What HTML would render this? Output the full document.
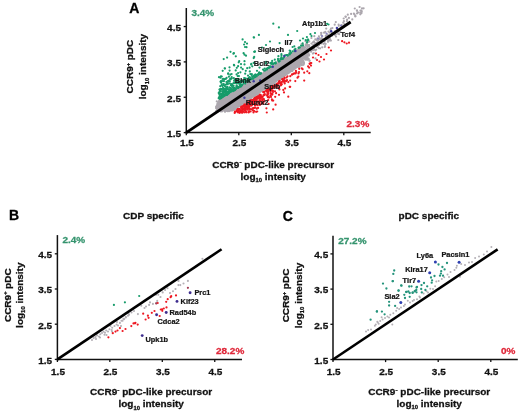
<!DOCTYPE html>
<html><head><meta charset="utf-8"><style>
html,body{margin:0;padding:0;background:#fff;width:520px;height:413px;overflow:hidden}
svg{display:block;font-family:"Liberation Sans",sans-serif;filter:blur(0.35px)}
</style></head><body>
<svg width="520" height="413" viewBox="0 0 520 413">
<rect width="520" height="413" fill="#fff"/>
<polygon points="217.3,111.4 215.2,107.1 218.6,99.6 221.2,98.2 223.8,96.7 226.5,95.3 229.1,93.7 231.7,92.2 234.3,90.6 237.0,89.0 239.6,87.3 242.2,85.7 244.8,84.0 247.5,82.4 250.1,80.7 252.7,79.0 255.3,77.3 258.0,75.5 260.6,73.8 263.2,72.1 265.8,70.3 268.5,68.6 271.1,66.9 273.7,65.1 276.3,63.4 279.0,61.6 281.6,59.9 284.2,58.1 286.8,56.4 289.5,54.6 292.1,52.8 294.7,51.1 297.3,49.3 300.0,47.5 302.6,45.8 302.6,64.6 300.0,66.3 297.3,68.1 294.7,69.9 292.1,71.6 289.5,73.4 286.8,75.2 284.2,76.9 281.6,78.7 279.0,80.5 276.3,82.2 273.7,84.0 271.1,85.8 268.5,87.5 265.8,89.3 263.2,91.1 260.6,92.8 258.0,94.6 255.3,96.4 252.7,98.1 250.1,99.9 247.5,101.7 244.8,103.4 242.2,105.2 239.6,107.0 237.0,108.7 234.3,110.5 231.7,111.4 229.1,111.4 226.5,111.4 223.8,111.4 221.2,111.4 218.6,111.4 216.0,111.4" fill="#aca7ae"/>
<g fill="#aca7ae">
<circle cx="257.8" cy="94.9" r="1.1"/>
<circle cx="262.9" cy="85.2" r="1.1"/>
<circle cx="233.2" cy="108.0" r="1.1"/>
<circle cx="224.9" cy="107.1" r="1.1"/>
<circle cx="224.6" cy="104.1" r="1.1"/>
<circle cx="306.5" cy="58.8" r="1.1"/>
<circle cx="276.3" cy="74.2" r="1.1"/>
<circle cx="264.8" cy="81.7" r="1.1"/>
<circle cx="233.7" cy="100.6" r="1.1"/>
<circle cx="256.7" cy="84.0" r="1.1"/>
<circle cx="263.9" cy="84.0" r="1.1"/>
<circle cx="258.2" cy="88.7" r="1.1"/>
<circle cx="307.9" cy="41.3" r="1.1"/>
<circle cx="245.2" cy="93.2" r="1.1"/>
<circle cx="242.8" cy="86.9" r="1.1"/>
<circle cx="294.0" cy="56.5" r="1.1"/>
<circle cx="304.2" cy="53.1" r="1.1"/>
<circle cx="299.9" cy="56.3" r="1.1"/>
<circle cx="306.3" cy="53.3" r="1.1"/>
<circle cx="287.8" cy="63.1" r="1.1"/>
<circle cx="227.1" cy="94.1" r="1.1"/>
<circle cx="225.5" cy="98.0" r="1.1"/>
<circle cx="267.6" cy="74.6" r="1.1"/>
<circle cx="233.7" cy="101.0" r="1.1"/>
<circle cx="226.9" cy="107.8" r="1.1"/>
<circle cx="235.8" cy="100.9" r="1.1"/>
<circle cx="297.5" cy="56.5" r="1.1"/>
<circle cx="275.2" cy="67.9" r="1.1"/>
<circle cx="307.1" cy="50.4" r="1.1"/>
<circle cx="246.4" cy="88.4" r="1.1"/>
<circle cx="223.0" cy="102.4" r="1.1"/>
<circle cx="271.5" cy="71.7" r="1.1"/>
<circle cx="257.9" cy="78.9" r="1.1"/>
<circle cx="295.8" cy="60.3" r="1.1"/>
<circle cx="230.4" cy="95.3" r="1.1"/>
<circle cx="233.7" cy="105.7" r="1.1"/>
<circle cx="302.6" cy="50.3" r="1.1"/>
<circle cx="254.9" cy="85.3" r="1.1"/>
<circle cx="238.1" cy="96.9" r="1.1"/>
<circle cx="239.8" cy="93.6" r="1.1"/>
<circle cx="232.3" cy="107.6" r="1.1"/>
<circle cx="222.5" cy="107.3" r="1.1"/>
<circle cx="272.7" cy="68.2" r="1.1"/>
<circle cx="300.5" cy="55.4" r="1.1"/>
<circle cx="257.2" cy="84.0" r="1.1"/>
<circle cx="232.4" cy="105.9" r="1.1"/>
<circle cx="249.5" cy="85.3" r="1.1"/>
<circle cx="306.3" cy="56.0" r="1.1"/>
<circle cx="229.1" cy="110.1" r="1.1"/>
<circle cx="217.9" cy="104.8" r="1.1"/>
<circle cx="260.5" cy="83.1" r="1.1"/>
<circle cx="283.9" cy="60.3" r="1.1"/>
<circle cx="289.1" cy="68.1" r="1.1"/>
<circle cx="248.5" cy="94.9" r="1.1"/>
<circle cx="254.6" cy="96.4" r="1.1"/>
<circle cx="295.6" cy="65.3" r="1.1"/>
<circle cx="269.8" cy="79.5" r="1.1"/>
<circle cx="251.9" cy="89.0" r="1.1"/>
<circle cx="293.3" cy="67.1" r="1.1"/>
<circle cx="285.2" cy="59.4" r="1.1"/>
<circle cx="237.4" cy="97.0" r="1.1"/>
<circle cx="261.9" cy="90.1" r="1.1"/>
<circle cx="278.5" cy="69.6" r="1.1"/>
<circle cx="276.9" cy="68.7" r="1.1"/>
<circle cx="298.2" cy="60.7" r="1.1"/>
<circle cx="255.8" cy="79.3" r="1.1"/>
<circle cx="300.2" cy="52.3" r="1.1"/>
<circle cx="245.3" cy="96.2" r="1.1"/>
<circle cx="261.8" cy="76.7" r="1.1"/>
<circle cx="303.5" cy="61.9" r="1.1"/>
<circle cx="231.8" cy="105.8" r="1.1"/>
<circle cx="254.3" cy="85.6" r="1.1"/>
<circle cx="261.6" cy="85.7" r="1.1"/>
<circle cx="257.8" cy="75.8" r="1.1"/>
<circle cx="219.1" cy="109.5" r="1.1"/>
<circle cx="268.6" cy="78.2" r="1.1"/>
<circle cx="288.9" cy="60.8" r="1.1"/>
<circle cx="218.5" cy="110.6" r="1.1"/>
<circle cx="238.0" cy="96.8" r="1.1"/>
<circle cx="257.2" cy="83.6" r="1.1"/>
<circle cx="276.4" cy="67.5" r="1.1"/>
<circle cx="259.9" cy="82.7" r="1.1"/>
<circle cx="281.8" cy="67.6" r="1.1"/>
<circle cx="241.2" cy="99.9" r="1.1"/>
<circle cx="272.7" cy="68.1" r="1.1"/>
<circle cx="252.4" cy="85.3" r="1.1"/>
<circle cx="301.9" cy="65.2" r="1.1"/>
<circle cx="228.2" cy="111.1" r="1.1"/>
<circle cx="250.8" cy="87.1" r="1.1"/>
<circle cx="297.0" cy="54.6" r="1.1"/>
<circle cx="276.1" cy="83.5" r="1.1"/>
<circle cx="282.6" cy="64.8" r="1.1"/>
<circle cx="235.8" cy="105.7" r="1.1"/>
<circle cx="306.3" cy="45.7" r="1.1"/>
<circle cx="245.7" cy="93.5" r="1.1"/>
<circle cx="294.9" cy="60.7" r="1.1"/>
<circle cx="266.8" cy="76.7" r="1.1"/>
<circle cx="261.0" cy="73.4" r="1.1"/>
<circle cx="289.7" cy="61.4" r="1.1"/>
<circle cx="247.0" cy="91.1" r="1.1"/>
<circle cx="263.7" cy="83.1" r="1.1"/>
<circle cx="293.4" cy="64.9" r="1.1"/>
<circle cx="303.4" cy="64.8" r="1.1"/>
<circle cx="236.6" cy="102.8" r="1.1"/>
<circle cx="274.9" cy="73.6" r="1.1"/>
<circle cx="293.7" cy="64.2" r="1.1"/>
<circle cx="293.9" cy="61.7" r="1.1"/>
<circle cx="235.4" cy="91.9" r="1.1"/>
<circle cx="268.9" cy="87.5" r="1.1"/>
<circle cx="265.5" cy="86.0" r="1.1"/>
<circle cx="305.3" cy="52.6" r="1.1"/>
<circle cx="253.0" cy="85.7" r="1.1"/>
<circle cx="279.7" cy="75.7" r="1.1"/>
<circle cx="265.7" cy="89.8" r="1.1"/>
<circle cx="241.0" cy="89.4" r="1.1"/>
<circle cx="260.0" cy="79.3" r="1.1"/>
<circle cx="233.8" cy="108.9" r="1.1"/>
<circle cx="287.8" cy="71.8" r="1.1"/>
<circle cx="234.1" cy="99.4" r="1.1"/>
<circle cx="248.9" cy="83.0" r="1.1"/>
<circle cx="225.9" cy="106.3" r="1.1"/>
<circle cx="239.2" cy="99.5" r="1.1"/>
<circle cx="265.0" cy="84.1" r="1.1"/>
<circle cx="264.9" cy="77.8" r="1.1"/>
<circle cx="235.0" cy="104.6" r="1.1"/>
<circle cx="294.4" cy="65.0" r="1.1"/>
<circle cx="294.9" cy="58.6" r="1.1"/>
<circle cx="299.2" cy="48.5" r="1.1"/>
<circle cx="245.2" cy="89.9" r="1.1"/>
<circle cx="297.8" cy="59.2" r="1.1"/>
<circle cx="238.2" cy="98.2" r="1.1"/>
<circle cx="292.7" cy="64.8" r="1.1"/>
<circle cx="288.8" cy="60.1" r="1.1"/>
<circle cx="217.9" cy="107.8" r="1.1"/>
<circle cx="285.9" cy="73.1" r="1.1"/>
<circle cx="222.7" cy="108.2" r="1.1"/>
<circle cx="229.7" cy="105.3" r="1.1"/>
<circle cx="235.0" cy="91.7" r="1.1"/>
<circle cx="221.9" cy="103.4" r="1.1"/>
<circle cx="246.3" cy="93.9" r="1.1"/>
<circle cx="263.6" cy="86.6" r="1.1"/>
<circle cx="280.6" cy="66.2" r="1.1"/>
<circle cx="232.9" cy="109.0" r="1.1"/>
<circle cx="234.2" cy="98.1" r="1.1"/>
<circle cx="289.9" cy="61.8" r="1.1"/>
<circle cx="295.3" cy="62.7" r="1.1"/>
<circle cx="262.6" cy="84.9" r="1.1"/>
<circle cx="290.2" cy="63.2" r="1.1"/>
<circle cx="291.1" cy="70.8" r="1.1"/>
<circle cx="280.1" cy="63.6" r="1.1"/>
<circle cx="286.5" cy="71.7" r="1.1"/>
<circle cx="247.6" cy="86.9" r="1.1"/>
<circle cx="237.5" cy="92.5" r="1.1"/>
<circle cx="277.4" cy="75.1" r="1.1"/>
<circle cx="265.2" cy="73.3" r="1.1"/>
<circle cx="308.1" cy="55.4" r="1.1"/>
<circle cx="306.3" cy="57.8" r="1.1"/>
<circle cx="272.8" cy="74.6" r="1.1"/>
<circle cx="250.7" cy="86.1" r="1.1"/>
<circle cx="266.8" cy="76.2" r="1.1"/>
<circle cx="274.8" cy="79.7" r="1.1"/>
<circle cx="301.7" cy="59.7" r="1.1"/>
<circle cx="259.6" cy="80.4" r="1.1"/>
<circle cx="221.6" cy="103.8" r="1.1"/>
<circle cx="254.9" cy="93.0" r="1.1"/>
<circle cx="242.5" cy="95.9" r="1.1"/>
<circle cx="267.7" cy="79.4" r="1.1"/>
<circle cx="217.5" cy="103.9" r="1.1"/>
<circle cx="220.2" cy="105.2" r="1.1"/>
<circle cx="298.7" cy="50.0" r="1.1"/>
<circle cx="220.8" cy="97.5" r="1.1"/>
<circle cx="299.4" cy="57.3" r="1.1"/>
<circle cx="260.1" cy="79.3" r="1.1"/>
<circle cx="302.3" cy="55.1" r="1.1"/>
<circle cx="259.3" cy="74.4" r="1.1"/>
<circle cx="226.8" cy="106.5" r="1.1"/>
<circle cx="258.1" cy="83.8" r="1.1"/>
<circle cx="227.6" cy="103.2" r="1.1"/>
<circle cx="277.6" cy="74.8" r="1.1"/>
<circle cx="254.8" cy="85.4" r="1.1"/>
<circle cx="283.7" cy="67.2" r="1.1"/>
<circle cx="226.7" cy="98.6" r="1.1"/>
<circle cx="249.2" cy="95.6" r="1.1"/>
<circle cx="279.2" cy="76.2" r="1.1"/>
<circle cx="285.4" cy="68.5" r="1.1"/>
<circle cx="297.0" cy="59.5" r="1.1"/>
<circle cx="221.8" cy="109.4" r="1.1"/>
<circle cx="225.6" cy="100.9" r="1.1"/>
<circle cx="222.9" cy="101.6" r="1.1"/>
<circle cx="274.2" cy="69.6" r="1.1"/>
<circle cx="260.2" cy="81.7" r="1.1"/>
<circle cx="293.3" cy="56.2" r="1.1"/>
<circle cx="227.2" cy="102.5" r="1.1"/>
<circle cx="235.8" cy="105.7" r="1.1"/>
<circle cx="239.9" cy="94.7" r="1.1"/>
<circle cx="307.1" cy="55.7" r="1.1"/>
<circle cx="266.6" cy="78.8" r="1.1"/>
<circle cx="250.2" cy="100.7" r="1.1"/>
<circle cx="296.6" cy="56.5" r="1.1"/>
<circle cx="260.8" cy="81.5" r="1.1"/>
<circle cx="243.7" cy="93.6" r="1.1"/>
<circle cx="277.1" cy="73.4" r="1.1"/>
<circle cx="244.1" cy="94.8" r="1.1"/>
<circle cx="229.4" cy="111.1" r="1.1"/>
<circle cx="282.9" cy="69.2" r="1.1"/>
<circle cx="268.5" cy="75.4" r="1.1"/>
<circle cx="302.6" cy="49.8" r="1.1"/>
<circle cx="244.2" cy="96.3" r="1.1"/>
<circle cx="252.9" cy="78.1" r="1.1"/>
<circle cx="249.5" cy="94.3" r="1.1"/>
<circle cx="249.6" cy="93.9" r="1.1"/>
<circle cx="268.0" cy="74.6" r="1.1"/>
<circle cx="265.9" cy="75.7" r="1.1"/>
<circle cx="286.0" cy="71.0" r="1.1"/>
<circle cx="242.1" cy="89.1" r="1.1"/>
<circle cx="268.4" cy="76.5" r="1.1"/>
<circle cx="276.1" cy="71.6" r="1.1"/>
<circle cx="288.6" cy="65.4" r="1.1"/>
<circle cx="223.7" cy="108.3" r="1.1"/>
<circle cx="274.5" cy="83.8" r="1.1"/>
<circle cx="284.7" cy="68.5" r="1.1"/>
<circle cx="286.5" cy="68.1" r="1.1"/>
<circle cx="286.5" cy="68.7" r="1.1"/>
<circle cx="278.0" cy="68.1" r="1.1"/>
<circle cx="265.6" cy="80.6" r="1.1"/>
<circle cx="253.9" cy="94.7" r="1.1"/>
<circle cx="277.5" cy="65.8" r="1.1"/>
<circle cx="297.9" cy="64.6" r="1.1"/>
<circle cx="275.1" cy="80.5" r="1.1"/>
<circle cx="255.0" cy="87.5" r="1.1"/>
<circle cx="229.7" cy="104.2" r="1.1"/>
<circle cx="235.0" cy="103.5" r="1.1"/>
<circle cx="221.7" cy="106.9" r="1.1"/>
<circle cx="226.8" cy="110.5" r="1.1"/>
<circle cx="269.9" cy="75.2" r="1.1"/>
<circle cx="233.2" cy="101.8" r="1.1"/>
<circle cx="237.9" cy="99.2" r="1.1"/>
<circle cx="233.2" cy="107.5" r="1.1"/>
<circle cx="232.1" cy="101.6" r="1.1"/>
<circle cx="291.3" cy="66.2" r="1.1"/>
<circle cx="240.2" cy="88.0" r="1.1"/>
<circle cx="266.5" cy="85.7" r="1.1"/>
<circle cx="260.6" cy="82.3" r="1.1"/>
<circle cx="289.9" cy="61.3" r="1.1"/>
<circle cx="264.7" cy="83.8" r="1.1"/>
<circle cx="276.6" cy="72.2" r="1.1"/>
<circle cx="281.8" cy="67.5" r="1.1"/>
<circle cx="230.7" cy="100.3" r="1.1"/>
<circle cx="296.1" cy="55.0" r="1.1"/>
<circle cx="274.7" cy="69.2" r="1.1"/>
<circle cx="230.1" cy="103.3" r="1.1"/>
<circle cx="216.4" cy="108.2" r="1.1"/>
<circle cx="282.1" cy="63.5" r="1.1"/>
<circle cx="304.0" cy="50.1" r="1.1"/>
<circle cx="295.0" cy="62.3" r="1.1"/>
<circle cx="300.5" cy="47.5" r="1.1"/>
<circle cx="292.1" cy="59.7" r="1.1"/>
<circle cx="230.7" cy="96.7" r="1.1"/>
<circle cx="244.8" cy="93.9" r="1.1"/>
<circle cx="259.2" cy="81.7" r="1.1"/>
<circle cx="249.3" cy="91.1" r="1.1"/>
<circle cx="258.6" cy="86.0" r="1.1"/>
<circle cx="292.5" cy="61.6" r="1.1"/>
<circle cx="281.5" cy="69.2" r="1.1"/>
<circle cx="268.1" cy="78.2" r="1.1"/>
<circle cx="289.7" cy="62.8" r="1.1"/>
<circle cx="272.8" cy="75.5" r="1.1"/>
<circle cx="243.6" cy="89.4" r="1.1"/>
<circle cx="252.3" cy="90.1" r="1.1"/>
<circle cx="283.4" cy="70.5" r="1.1"/>
<circle cx="303.1" cy="61.3" r="1.1"/>
<circle cx="292.2" cy="64.3" r="1.1"/>
<circle cx="229.2" cy="97.6" r="1.1"/>
<circle cx="232.8" cy="97.2" r="1.1"/>
<circle cx="293.1" cy="62.5" r="1.1"/>
<circle cx="230.7" cy="103.9" r="1.1"/>
<circle cx="253.6" cy="77.3" r="1.1"/>
<circle cx="263.2" cy="75.9" r="1.1"/>
<circle cx="286.7" cy="62.9" r="1.1"/>
<circle cx="254.1" cy="91.4" r="1.1"/>
<circle cx="253.0" cy="92.0" r="1.1"/>
<circle cx="272.1" cy="70.4" r="1.1"/>
<circle cx="276.0" cy="71.7" r="1.1"/>
<circle cx="250.9" cy="97.8" r="1.1"/>
<circle cx="272.4" cy="75.1" r="1.1"/>
<circle cx="286.6" cy="59.9" r="1.1"/>
<circle cx="262.2" cy="85.1" r="1.1"/>
<circle cx="281.8" cy="62.4" r="1.1"/>
<circle cx="293.0" cy="61.3" r="1.1"/>
<circle cx="303.0" cy="56.3" r="1.1"/>
<circle cx="238.7" cy="99.7" r="1.1"/>
<circle cx="280.3" cy="74.8" r="1.1"/>
<circle cx="258.8" cy="73.8" r="1.1"/>
<circle cx="305.7" cy="45.2" r="1.1"/>
<circle cx="267.7" cy="69.7" r="1.1"/>
<circle cx="291.3" cy="70.2" r="1.1"/>
<circle cx="227.5" cy="103.0" r="1.1"/>
<circle cx="238.4" cy="101.2" r="1.1"/>
<circle cx="292.6" cy="58.6" r="1.1"/>
<circle cx="219.2" cy="104.7" r="1.1"/>
<circle cx="306.9" cy="44.7" r="1.1"/>
<circle cx="277.9" cy="73.6" r="1.1"/>
<circle cx="251.3" cy="96.3" r="1.1"/>
<circle cx="234.6" cy="105.0" r="1.1"/>
<circle cx="229.4" cy="108.5" r="1.1"/>
<circle cx="264.0" cy="76.1" r="1.1"/>
<circle cx="268.4" cy="80.8" r="1.1"/>
<circle cx="277.9" cy="64.8" r="1.1"/>
<circle cx="304.4" cy="57.6" r="1.1"/>
<circle cx="273.5" cy="77.1" r="1.1"/>
<circle cx="285.9" cy="65.5" r="1.1"/>
<circle cx="293.2" cy="66.3" r="1.1"/>
<circle cx="253.8" cy="93.0" r="1.1"/>
<circle cx="264.5" cy="77.3" r="1.1"/>
<circle cx="255.9" cy="82.1" r="1.1"/>
<circle cx="282.9" cy="70.0" r="1.1"/>
<circle cx="283.5" cy="73.9" r="1.1"/>
<circle cx="270.7" cy="80.5" r="1.1"/>
<circle cx="227.7" cy="110.3" r="1.1"/>
<circle cx="221.0" cy="107.3" r="1.1"/>
<circle cx="264.6" cy="79.6" r="1.1"/>
<circle cx="237.9" cy="93.6" r="1.1"/>
<circle cx="300.0" cy="48.9" r="1.1"/>
<circle cx="254.9" cy="87.9" r="1.1"/>
<circle cx="236.6" cy="98.9" r="1.1"/>
<circle cx="243.7" cy="94.7" r="1.1"/>
<circle cx="291.1" cy="60.4" r="1.1"/>
<circle cx="249.0" cy="91.7" r="1.1"/>
<circle cx="298.8" cy="57.6" r="1.1"/>
<circle cx="259.6" cy="88.7" r="1.1"/>
<circle cx="243.4" cy="84.9" r="1.1"/>
<circle cx="293.2" cy="65.5" r="1.1"/>
<circle cx="259.6" cy="78.4" r="1.1"/>
<circle cx="234.8" cy="91.0" r="1.1"/>
<circle cx="233.8" cy="99.4" r="1.1"/>
<circle cx="282.9" cy="68.6" r="1.1"/>
<circle cx="298.9" cy="51.4" r="1.1"/>
<circle cx="280.2" cy="75.1" r="1.1"/>
<circle cx="257.1" cy="81.8" r="1.1"/>
<circle cx="281.5" cy="66.8" r="1.1"/>
<circle cx="232.9" cy="100.6" r="1.1"/>
<circle cx="250.4" cy="82.1" r="1.1"/>
<circle cx="297.5" cy="60.8" r="1.1"/>
<circle cx="301.4" cy="57.0" r="1.1"/>
<circle cx="241.7" cy="96.7" r="1.1"/>
<circle cx="256.7" cy="86.9" r="1.1"/>
<circle cx="265.0" cy="73.2" r="1.1"/>
<circle cx="239.3" cy="95.0" r="1.1"/>
<circle cx="224.2" cy="108.9" r="1.1"/>
<circle cx="241.9" cy="87.1" r="1.1"/>
<circle cx="285.2" cy="74.5" r="1.1"/>
<circle cx="232.8" cy="93.8" r="1.1"/>
<circle cx="275.5" cy="77.2" r="1.1"/>
<circle cx="263.7" cy="74.9" r="1.1"/>
<circle cx="293.9" cy="62.6" r="1.1"/>
<circle cx="232.2" cy="107.2" r="1.1"/>
<circle cx="231.4" cy="105.1" r="1.1"/>
<circle cx="287.2" cy="66.9" r="1.1"/>
<circle cx="288.9" cy="63.0" r="1.1"/>
<circle cx="269.5" cy="70.9" r="1.1"/>
<circle cx="296.4" cy="62.9" r="1.1"/>
<circle cx="230.2" cy="97.3" r="1.1"/>
<circle cx="256.8" cy="84.5" r="1.1"/>
<circle cx="289.6" cy="53.4" r="1.1"/>
<circle cx="266.1" cy="74.1" r="1.1"/>
<circle cx="238.1" cy="95.1" r="1.1"/>
<circle cx="245.1" cy="89.6" r="1.1"/>
<circle cx="264.5" cy="80.6" r="1.1"/>
<circle cx="291.6" cy="55.1" r="1.1"/>
<circle cx="239.6" cy="92.6" r="1.1"/>
<circle cx="288.5" cy="57.4" r="1.1"/>
<circle cx="254.0" cy="89.3" r="1.1"/>
<circle cx="220.1" cy="107.2" r="1.1"/>
<circle cx="286.2" cy="62.6" r="1.1"/>
<circle cx="284.7" cy="66.6" r="1.1"/>
<circle cx="238.3" cy="95.5" r="1.1"/>
<circle cx="243.6" cy="95.8" r="1.1"/>
<circle cx="286.4" cy="61.7" r="1.1"/>
<circle cx="237.3" cy="98.4" r="1.1"/>
<circle cx="258.6" cy="77.6" r="1.1"/>
<circle cx="249.7" cy="97.2" r="1.1"/>
<circle cx="219.9" cy="98.1" r="1.1"/>
<circle cx="275.9" cy="68.0" r="1.1"/>
<circle cx="295.6" cy="57.3" r="1.1"/>
<circle cx="297.7" cy="62.4" r="1.1"/>
<circle cx="251.2" cy="87.7" r="1.1"/>
<circle cx="236.0" cy="100.9" r="1.1"/>
<circle cx="231.3" cy="99.7" r="1.1"/>
<circle cx="235.9" cy="103.3" r="1.1"/>
<circle cx="307.5" cy="50.1" r="1.1"/>
<circle cx="295.5" cy="57.7" r="1.1"/>
<circle cx="279.7" cy="65.0" r="1.1"/>
<circle cx="241.4" cy="92.4" r="1.1"/>
<circle cx="252.3" cy="87.8" r="1.1"/>
<circle cx="281.9" cy="68.8" r="1.1"/>
<circle cx="302.3" cy="49.9" r="1.1"/>
<circle cx="286.6" cy="66.9" r="1.1"/>
<circle cx="245.8" cy="103.2" r="1.1"/>
<circle cx="223.9" cy="104.1" r="1.1"/>
<circle cx="263.9" cy="83.3" r="1.1"/>
<circle cx="252.4" cy="88.0" r="1.1"/>
<circle cx="270.9" cy="74.2" r="1.1"/>
<circle cx="244.9" cy="98.6" r="1.1"/>
<circle cx="281.1" cy="65.9" r="1.1"/>
<circle cx="282.9" cy="69.0" r="1.1"/>
<circle cx="242.0" cy="97.5" r="1.1"/>
<circle cx="253.5" cy="94.9" r="1.1"/>
<circle cx="243.1" cy="87.9" r="1.1"/>
<circle cx="236.0" cy="98.0" r="1.1"/>
<circle cx="268.2" cy="77.2" r="1.1"/>
<circle cx="305.9" cy="54.3" r="1.1"/>
<circle cx="236.1" cy="92.0" r="1.1"/>
<circle cx="277.5" cy="61.6" r="1.1"/>
<circle cx="274.3" cy="76.1" r="1.1"/>
<circle cx="255.5" cy="87.4" r="1.1"/>
<circle cx="246.4" cy="91.1" r="1.1"/>
<circle cx="241.9" cy="92.4" r="1.1"/>
<circle cx="231.5" cy="97.9" r="1.1"/>
<circle cx="238.3" cy="93.8" r="1.1"/>
<circle cx="230.1" cy="100.6" r="1.1"/>
<circle cx="280.7" cy="76.3" r="1.1"/>
<circle cx="252.2" cy="90.8" r="1.1"/>
<circle cx="222.0" cy="109.9" r="1.1"/>
<circle cx="270.1" cy="75.3" r="1.1"/>
<circle cx="246.1" cy="92.3" r="1.1"/>
<circle cx="298.2" cy="56.2" r="1.1"/>
<circle cx="240.3" cy="97.8" r="1.1"/>
<circle cx="272.8" cy="77.2" r="1.1"/>
<circle cx="249.5" cy="100.5" r="1.1"/>
<circle cx="273.9" cy="79.1" r="1.1"/>
<circle cx="254.0" cy="90.5" r="1.1"/>
<circle cx="297.0" cy="56.0" r="1.1"/>
<circle cx="299.8" cy="53.6" r="1.1"/>
<circle cx="244.6" cy="92.7" r="1.1"/>
<circle cx="306.0" cy="50.1" r="1.1"/>
<circle cx="278.7" cy="67.8" r="1.1"/>
<circle cx="261.6" cy="83.3" r="1.1"/>
<circle cx="266.6" cy="83.0" r="1.1"/>
<circle cx="305.2" cy="57.0" r="1.1"/>
<circle cx="248.1" cy="87.8" r="1.1"/>
<circle cx="280.1" cy="72.2" r="1.1"/>
<circle cx="304.8" cy="51.5" r="1.1"/>
<circle cx="261.3" cy="84.7" r="1.1"/>
<circle cx="250.2" cy="91.4" r="1.1"/>
<circle cx="238.0" cy="89.8" r="1.1"/>
<circle cx="246.1" cy="89.7" r="1.1"/>
<circle cx="222.0" cy="103.2" r="1.1"/>
<circle cx="225.6" cy="106.8" r="1.1"/>
<circle cx="287.2" cy="67.0" r="1.1"/>
<circle cx="231.2" cy="95.7" r="1.1"/>
<circle cx="239.6" cy="104.2" r="1.1"/>
<circle cx="289.4" cy="69.3" r="1.1"/>
<circle cx="282.0" cy="63.3" r="1.1"/>
<circle cx="246.9" cy="91.2" r="1.1"/>
<circle cx="268.4" cy="86.8" r="1.1"/>
<circle cx="281.2" cy="75.4" r="1.1"/>
<circle cx="227.7" cy="111.2" r="1.1"/>
<circle cx="277.7" cy="70.7" r="1.1"/>
<circle cx="270.0" cy="73.1" r="1.1"/>
<circle cx="305.4" cy="47.4" r="1.1"/>
<circle cx="274.2" cy="67.8" r="1.1"/>
<circle cx="302.0" cy="53.1" r="1.1"/>
<circle cx="227.1" cy="105.2" r="1.1"/>
<circle cx="242.5" cy="96.6" r="1.1"/>
<circle cx="244.6" cy="94.8" r="1.1"/>
<circle cx="293.3" cy="61.6" r="1.1"/>
<circle cx="286.5" cy="60.3" r="1.1"/>
<circle cx="252.0" cy="90.5" r="1.1"/>
<circle cx="229.7" cy="109.2" r="1.1"/>
<circle cx="226.1" cy="102.4" r="1.1"/>
<circle cx="227.3" cy="106.5" r="1.1"/>
<circle cx="241.4" cy="96.6" r="1.1"/>
<circle cx="260.5" cy="85.2" r="1.1"/>
<circle cx="222.1" cy="105.6" r="1.1"/>
<circle cx="244.6" cy="90.5" r="1.1"/>
<circle cx="307.8" cy="49.3" r="1.1"/>
<circle cx="295.9" cy="63.9" r="1.1"/>
<circle cx="252.6" cy="87.5" r="1.1"/>
<circle cx="266.8" cy="82.2" r="1.1"/>
<circle cx="302.5" cy="60.1" r="1.1"/>
<circle cx="307.6" cy="59.7" r="1.1"/>
<circle cx="232.4" cy="98.3" r="1.1"/>
<circle cx="231.7" cy="100.6" r="1.1"/>
<circle cx="285.5" cy="64.5" r="1.1"/>
<circle cx="263.5" cy="77.2" r="1.1"/>
<circle cx="290.7" cy="60.2" r="1.1"/>
<circle cx="290.0" cy="70.6" r="1.1"/>
<circle cx="286.8" cy="62.7" r="1.1"/>
<circle cx="253.2" cy="87.8" r="1.1"/>
<circle cx="239.2" cy="96.0" r="1.1"/>
<circle cx="237.1" cy="99.0" r="1.1"/>
<circle cx="250.2" cy="94.6" r="1.1"/>
<circle cx="274.8" cy="80.5" r="1.1"/>
<circle cx="241.9" cy="91.6" r="1.1"/>
<circle cx="247.0" cy="94.2" r="1.1"/>
<circle cx="235.6" cy="99.6" r="1.1"/>
<circle cx="232.5" cy="107.7" r="1.1"/>
<circle cx="229.4" cy="106.7" r="1.1"/>
<circle cx="262.4" cy="77.1" r="1.1"/>
<circle cx="235.0" cy="102.6" r="1.1"/>
<circle cx="245.7" cy="92.5" r="1.1"/>
<circle cx="255.7" cy="88.2" r="1.1"/>
<circle cx="236.4" cy="105.4" r="1.1"/>
<circle cx="241.3" cy="91.3" r="1.1"/>
<circle cx="303.3" cy="55.2" r="1.1"/>
<circle cx="307.1" cy="48.4" r="1.1"/>
<circle cx="274.5" cy="78.3" r="1.1"/>
<circle cx="272.8" cy="69.4" r="1.1"/>
<circle cx="294.9" cy="63.5" r="1.1"/>
<circle cx="226.7" cy="109.6" r="1.1"/>
<circle cx="279.6" cy="76.8" r="1.1"/>
<circle cx="251.6" cy="86.5" r="1.1"/>
<circle cx="271.4" cy="80.6" r="1.1"/>
<circle cx="273.9" cy="76.3" r="1.1"/>
<circle cx="270.7" cy="85.2" r="1.1"/>
<circle cx="259.3" cy="89.9" r="1.1"/>
<circle cx="284.0" cy="69.9" r="1.1"/>
<circle cx="253.2" cy="80.1" r="1.1"/>
<circle cx="227.9" cy="98.9" r="1.1"/>
<circle cx="293.4" cy="60.8" r="1.1"/>
<circle cx="302.4" cy="50.2" r="1.1"/>
<circle cx="307.5" cy="58.8" r="1.1"/>
<circle cx="296.2" cy="59.5" r="1.1"/>
<circle cx="257.9" cy="88.0" r="1.1"/>
<circle cx="295.7" cy="57.6" r="1.1"/>
<circle cx="223.0" cy="104.1" r="1.1"/>
<circle cx="288.5" cy="67.4" r="1.1"/>
<circle cx="294.8" cy="59.3" r="1.1"/>
<circle cx="266.7" cy="71.1" r="1.1"/>
<circle cx="249.8" cy="94.8" r="1.1"/>
<circle cx="227.0" cy="97.0" r="1.1"/>
<circle cx="251.9" cy="84.4" r="1.1"/>
<circle cx="235.2" cy="106.6" r="1.1"/>
<circle cx="234.3" cy="107.6" r="1.1"/>
<circle cx="255.8" cy="81.3" r="1.1"/>
<circle cx="274.1" cy="73.1" r="1.1"/>
<circle cx="271.6" cy="76.2" r="1.1"/>
<circle cx="280.0" cy="72.5" r="1.1"/>
<circle cx="228.1" cy="95.7" r="1.1"/>
<circle cx="249.1" cy="82.5" r="1.1"/>
<circle cx="307.6" cy="53.8" r="1.1"/>
<circle cx="244.7" cy="100.8" r="1.1"/>
<circle cx="229.7" cy="106.9" r="1.1"/>
<circle cx="253.8" cy="91.0" r="1.1"/>
<circle cx="262.8" cy="76.9" r="1.1"/>
<circle cx="237.8" cy="99.5" r="1.1"/>
<circle cx="242.4" cy="92.0" r="1.1"/>
<circle cx="278.4" cy="73.5" r="1.1"/>
<circle cx="302.0" cy="60.9" r="1.1"/>
<circle cx="257.4" cy="79.4" r="1.1"/>
<circle cx="254.7" cy="87.6" r="1.1"/>
<circle cx="243.1" cy="89.1" r="1.1"/>
<circle cx="278.0" cy="70.7" r="1.1"/>
<circle cx="298.5" cy="52.0" r="1.1"/>
<circle cx="254.9" cy="91.4" r="1.1"/>
<circle cx="270.5" cy="68.2" r="1.1"/>
<circle cx="225.4" cy="104.6" r="1.1"/>
<circle cx="250.6" cy="90.6" r="1.1"/>
<circle cx="277.7" cy="76.9" r="1.1"/>
<circle cx="218.4" cy="102.2" r="1.1"/>
<circle cx="259.3" cy="87.0" r="1.1"/>
<circle cx="277.9" cy="66.7" r="1.1"/>
<circle cx="252.5" cy="90.3" r="1.1"/>
<circle cx="275.9" cy="77.5" r="1.1"/>
<circle cx="253.1" cy="89.6" r="1.1"/>
<circle cx="235.5" cy="102.4" r="1.1"/>
<circle cx="229.4" cy="110.0" r="1.1"/>
<circle cx="231.6" cy="97.1" r="1.1"/>
<circle cx="273.5" cy="74.1" r="1.1"/>
<circle cx="283.4" cy="71.0" r="1.1"/>
<circle cx="227.2" cy="105.9" r="1.1"/>
<circle cx="303.0" cy="53.8" r="1.1"/>
<circle cx="226.4" cy="100.6" r="1.1"/>
<circle cx="243.9" cy="96.3" r="1.1"/>
<circle cx="228.1" cy="104.5" r="1.1"/>
<circle cx="263.3" cy="83.1" r="1.1"/>
<circle cx="254.3" cy="78.6" r="1.1"/>
<circle cx="236.2" cy="105.0" r="1.1"/>
<circle cx="294.4" cy="57.9" r="1.1"/>
<circle cx="294.3" cy="52.5" r="1.1"/>
<circle cx="272.5" cy="66.2" r="1.1"/>
<circle cx="291.4" cy="62.6" r="1.1"/>
<circle cx="265.0" cy="87.4" r="1.1"/>
<circle cx="226.4" cy="109.7" r="1.1"/>
<circle cx="220.5" cy="111.3" r="1.1"/>
<circle cx="226.5" cy="104.5" r="1.1"/>
<circle cx="246.4" cy="99.3" r="1.1"/>
<circle cx="303.2" cy="53.4" r="1.1"/>
<circle cx="262.2" cy="77.4" r="1.1"/>
<circle cx="284.2" cy="69.5" r="1.1"/>
<circle cx="250.0" cy="94.8" r="1.1"/>
<circle cx="255.8" cy="83.4" r="1.1"/>
<circle cx="220.8" cy="108.5" r="1.1"/>
<circle cx="266.5" cy="80.1" r="1.1"/>
<circle cx="236.7" cy="94.8" r="1.1"/>
<circle cx="260.7" cy="79.7" r="1.1"/>
<circle cx="285.1" cy="66.7" r="1.1"/>
<circle cx="305.0" cy="52.6" r="1.1"/>
<circle cx="270.7" cy="71.2" r="1.1"/>
<circle cx="250.1" cy="90.8" r="1.1"/>
<circle cx="272.2" cy="78.4" r="1.1"/>
<circle cx="263.7" cy="82.8" r="1.1"/>
<circle cx="221.1" cy="106.0" r="1.1"/>
<circle cx="289.3" cy="61.2" r="1.1"/>
<circle cx="295.2" cy="62.6" r="1.1"/>
<circle cx="224.1" cy="104.8" r="1.1"/>
<circle cx="292.6" cy="63.0" r="1.1"/>
<circle cx="288.7" cy="59.9" r="1.1"/>
<circle cx="221.4" cy="108.8" r="1.1"/>
<circle cx="266.9" cy="79.8" r="1.1"/>
<circle cx="285.4" cy="64.3" r="1.1"/>
<circle cx="306.6" cy="56.7" r="1.1"/>
<circle cx="223.1" cy="106.8" r="1.1"/>
<circle cx="250.9" cy="94.3" r="1.1"/>
<circle cx="256.4" cy="82.2" r="1.1"/>
<circle cx="222.8" cy="105.1" r="1.1"/>
<circle cx="292.9" cy="64.0" r="1.1"/>
<circle cx="227.1" cy="110.5" r="1.1"/>
<circle cx="303.9" cy="63.8" r="1.1"/>
<circle cx="254.3" cy="90.9" r="1.1"/>
<circle cx="293.3" cy="53.3" r="1.1"/>
<circle cx="219.1" cy="103.5" r="1.1"/>
<circle cx="250.9" cy="94.3" r="1.1"/>
<circle cx="279.6" cy="79.9" r="1.1"/>
<circle cx="287.8" cy="57.9" r="1.1"/>
<circle cx="270.0" cy="71.2" r="1.1"/>
<circle cx="248.0" cy="88.7" r="1.1"/>
<circle cx="264.0" cy="76.3" r="1.1"/>
<circle cx="269.0" cy="74.4" r="1.1"/>
<circle cx="260.4" cy="86.6" r="1.1"/>
<circle cx="246.4" cy="93.3" r="1.1"/>
<circle cx="283.3" cy="70.7" r="1.1"/>
<circle cx="239.8" cy="88.1" r="1.1"/>
<circle cx="282.1" cy="64.5" r="1.1"/>
<circle cx="299.8" cy="61.1" r="1.1"/>
<circle cx="260.9" cy="81.4" r="1.1"/>
<circle cx="244.4" cy="85.3" r="1.1"/>
<circle cx="246.8" cy="97.9" r="1.1"/>
<circle cx="303.6" cy="52.8" r="1.1"/>
<circle cx="288.3" cy="72.9" r="1.1"/>
<circle cx="234.5" cy="106.8" r="1.1"/>
<circle cx="286.5" cy="66.6" r="1.1"/>
<circle cx="298.9" cy="50.1" r="1.1"/>
<circle cx="303.6" cy="57.1" r="1.1"/>
<circle cx="242.9" cy="89.5" r="1.1"/>
<circle cx="239.1" cy="103.3" r="1.1"/>
<circle cx="265.6" cy="79.3" r="1.1"/>
<circle cx="228.3" cy="100.2" r="1.1"/>
<circle cx="241.3" cy="96.5" r="1.1"/>
<circle cx="296.5" cy="54.5" r="1.1"/>
<circle cx="295.2" cy="55.1" r="1.1"/>
<circle cx="283.7" cy="72.4" r="1.1"/>
<circle cx="276.9" cy="64.2" r="1.1"/>
<circle cx="249.5" cy="89.2" r="1.1"/>
<circle cx="250.3" cy="93.0" r="1.1"/>
<circle cx="302.9" cy="60.5" r="1.1"/>
<circle cx="237.6" cy="98.3" r="1.1"/>
<circle cx="226.4" cy="98.9" r="1.1"/>
<circle cx="299.1" cy="59.3" r="1.1"/>
<circle cx="244.6" cy="83.2" r="1.1"/>
<circle cx="221.9" cy="109.6" r="1.1"/>
<circle cx="268.7" cy="78.7" r="1.1"/>
<circle cx="279.2" cy="64.7" r="1.1"/>
<circle cx="233.2" cy="105.6" r="1.1"/>
<circle cx="234.4" cy="101.0" r="1.1"/>
<circle cx="254.6" cy="88.6" r="1.1"/>
<circle cx="267.5" cy="77.8" r="1.1"/>
<circle cx="267.8" cy="75.0" r="1.1"/>
<circle cx="280.7" cy="65.9" r="1.1"/>
<circle cx="295.1" cy="62.8" r="1.1"/>
<circle cx="272.5" cy="74.1" r="1.1"/>
<circle cx="302.0" cy="49.6" r="1.1"/>
<circle cx="219.2" cy="107.4" r="1.1"/>
<circle cx="296.1" cy="57.6" r="1.1"/>
<circle cx="292.5" cy="61.4" r="1.1"/>
<circle cx="264.0" cy="87.6" r="1.1"/>
<circle cx="289.2" cy="54.1" r="1.1"/>
<circle cx="247.1" cy="93.1" r="1.1"/>
<circle cx="217.6" cy="111.0" r="1.1"/>
<circle cx="264.6" cy="83.7" r="1.1"/>
<circle cx="278.2" cy="74.2" r="1.1"/>
<circle cx="232.4" cy="100.6" r="1.1"/>
<circle cx="239.5" cy="105.4" r="1.1"/>
<circle cx="238.1" cy="96.6" r="1.1"/>
<circle cx="240.1" cy="100.1" r="1.1"/>
<circle cx="233.2" cy="101.6" r="1.1"/>
<circle cx="243.9" cy="97.6" r="1.1"/>
<circle cx="288.8" cy="56.6" r="1.1"/>
<circle cx="223.4" cy="107.3" r="1.1"/>
<circle cx="254.3" cy="90.5" r="1.1"/>
<circle cx="250.3" cy="96.3" r="1.1"/>
<circle cx="251.8" cy="80.0" r="1.1"/>
<circle cx="288.8" cy="62.7" r="1.1"/>
<circle cx="251.1" cy="93.4" r="1.1"/>
<circle cx="270.7" cy="76.0" r="1.1"/>
<circle cx="251.2" cy="78.8" r="1.1"/>
<circle cx="235.1" cy="95.4" r="1.1"/>
<circle cx="304.5" cy="48.9" r="1.1"/>
<circle cx="229.2" cy="105.6" r="1.1"/>
<circle cx="303.1" cy="53.0" r="1.1"/>
<circle cx="297.3" cy="55.4" r="1.1"/>
<circle cx="303.4" cy="58.3" r="1.1"/>
<circle cx="241.3" cy="94.2" r="1.1"/>
<circle cx="222.8" cy="106.2" r="1.1"/>
<circle cx="244.4" cy="89.3" r="1.1"/>
<circle cx="227.5" cy="110.9" r="1.1"/>
<circle cx="286.3" cy="66.3" r="1.1"/>
<circle cx="303.2" cy="50.8" r="1.1"/>
<circle cx="244.7" cy="91.6" r="1.1"/>
<circle cx="301.1" cy="58.2" r="1.1"/>
<circle cx="268.5" cy="77.4" r="1.1"/>
<circle cx="289.1" cy="58.0" r="1.1"/>
<circle cx="294.0" cy="61.1" r="1.1"/>
<circle cx="253.0" cy="84.9" r="1.1"/>
<circle cx="283.9" cy="66.0" r="1.1"/>
<circle cx="218.0" cy="109.6" r="1.1"/>
<circle cx="276.2" cy="63.4" r="1.1"/>
<circle cx="233.0" cy="97.0" r="1.1"/>
<circle cx="240.2" cy="95.9" r="1.1"/>
<circle cx="250.2" cy="96.4" r="1.1"/>
<circle cx="249.0" cy="89.2" r="1.1"/>
<circle cx="269.6" cy="81.9" r="1.1"/>
<circle cx="246.8" cy="88.8" r="1.1"/>
<circle cx="237.7" cy="89.1" r="1.1"/>
<circle cx="231.2" cy="106.2" r="1.1"/>
<circle cx="306.7" cy="52.3" r="1.1"/>
<circle cx="237.8" cy="95.0" r="1.1"/>
<circle cx="230.7" cy="98.9" r="1.1"/>
<circle cx="279.4" cy="71.2" r="1.1"/>
<circle cx="267.6" cy="89.0" r="1.1"/>
<circle cx="251.0" cy="88.8" r="1.1"/>
<circle cx="261.8" cy="82.5" r="1.1"/>
<circle cx="258.7" cy="77.4" r="1.1"/>
<circle cx="261.9" cy="88.7" r="1.1"/>
<circle cx="242.0" cy="94.3" r="1.1"/>
<circle cx="224.0" cy="106.1" r="1.1"/>
<circle cx="289.5" cy="66.5" r="1.1"/>
<circle cx="299.2" cy="61.8" r="1.1"/>
<circle cx="303.1" cy="54.1" r="1.1"/>
<circle cx="260.5" cy="85.0" r="1.1"/>
<circle cx="247.7" cy="82.1" r="1.1"/>
<circle cx="236.0" cy="94.6" r="1.1"/>
<circle cx="300.5" cy="63.4" r="1.1"/>
<circle cx="289.5" cy="65.3" r="1.1"/>
<circle cx="232.4" cy="110.3" r="1.1"/>
<circle cx="244.1" cy="93.3" r="1.1"/>
<circle cx="247.8" cy="89.5" r="1.1"/>
<circle cx="301.9" cy="61.3" r="1.1"/>
<circle cx="222.2" cy="109.6" r="1.1"/>
<circle cx="296.3" cy="60.6" r="1.1"/>
<circle cx="233.3" cy="103.8" r="1.1"/>
<circle cx="273.5" cy="81.7" r="1.1"/>
<circle cx="283.0" cy="58.2" r="1.1"/>
<circle cx="288.4" cy="60.3" r="1.1"/>
<circle cx="268.5" cy="70.6" r="1.1"/>
<circle cx="251.5" cy="91.1" r="1.1"/>
<circle cx="218.3" cy="106.4" r="1.1"/>
<circle cx="276.3" cy="64.5" r="1.1"/>
<circle cx="280.0" cy="73.8" r="1.1"/>
<circle cx="233.4" cy="101.3" r="1.1"/>
<circle cx="279.3" cy="65.9" r="1.1"/>
<circle cx="300.0" cy="57.6" r="1.1"/>
<circle cx="303.7" cy="62.8" r="1.1"/>
<circle cx="246.8" cy="100.5" r="1.1"/>
<circle cx="264.2" cy="81.4" r="1.1"/>
<circle cx="265.4" cy="79.2" r="1.1"/>
<circle cx="284.6" cy="66.4" r="1.1"/>
<circle cx="238.4" cy="94.2" r="1.1"/>
<circle cx="222.7" cy="103.7" r="1.1"/>
<circle cx="303.4" cy="52.3" r="1.1"/>
<circle cx="254.3" cy="89.8" r="1.1"/>
<circle cx="304.3" cy="51.1" r="1.1"/>
<circle cx="256.0" cy="89.0" r="1.1"/>
<circle cx="275.1" cy="80.5" r="1.1"/>
<circle cx="299.1" cy="56.7" r="1.1"/>
<circle cx="264.7" cy="73.6" r="1.1"/>
<circle cx="286.6" cy="62.4" r="1.1"/>
<circle cx="241.3" cy="94.6" r="1.1"/>
<circle cx="283.0" cy="71.1" r="1.1"/>
<circle cx="281.1" cy="61.1" r="1.1"/>
<circle cx="256.0" cy="81.3" r="1.1"/>
<circle cx="297.9" cy="54.0" r="1.1"/>
<circle cx="222.8" cy="109.0" r="1.1"/>
<circle cx="228.0" cy="97.0" r="1.1"/>
<circle cx="268.9" cy="77.2" r="1.1"/>
<circle cx="278.8" cy="75.3" r="1.1"/>
<circle cx="220.5" cy="110.2" r="1.1"/>
<circle cx="259.7" cy="85.7" r="1.1"/>
<circle cx="303.8" cy="49.9" r="1.1"/>
<circle cx="260.9" cy="86.0" r="1.1"/>
<circle cx="227.2" cy="107.3" r="1.1"/>
<circle cx="236.5" cy="94.9" r="1.1"/>
<circle cx="252.9" cy="92.2" r="1.1"/>
<circle cx="239.9" cy="94.5" r="1.1"/>
<circle cx="249.8" cy="97.3" r="1.1"/>
<circle cx="257.8" cy="87.2" r="1.1"/>
<circle cx="244.1" cy="87.3" r="1.1"/>
<circle cx="258.0" cy="94.3" r="1.1"/>
<circle cx="250.8" cy="87.5" r="1.1"/>
<circle cx="305.9" cy="50.9" r="1.1"/>
<circle cx="284.3" cy="71.5" r="1.1"/>
<circle cx="282.7" cy="60.8" r="1.1"/>
<circle cx="256.2" cy="87.8" r="1.1"/>
<circle cx="237.0" cy="97.7" r="1.1"/>
<circle cx="247.6" cy="97.4" r="1.1"/>
<circle cx="272.6" cy="70.3" r="1.1"/>
<circle cx="252.8" cy="84.5" r="1.1"/>
<circle cx="221.7" cy="108.9" r="1.1"/>
<circle cx="291.7" cy="59.1" r="1.1"/>
<circle cx="281.7" cy="72.6" r="1.1"/>
<circle cx="284.8" cy="69.6" r="1.1"/>
<circle cx="267.8" cy="79.5" r="1.1"/>
<circle cx="306.9" cy="45.7" r="1.1"/>
<circle cx="283.0" cy="61.0" r="1.1"/>
<circle cx="241.4" cy="101.0" r="1.1"/>
<circle cx="231.6" cy="104.6" r="1.1"/>
<circle cx="298.3" cy="59.3" r="1.1"/>
<circle cx="254.8" cy="90.0" r="1.1"/>
<circle cx="271.9" cy="80.9" r="1.1"/>
<circle cx="268.5" cy="75.7" r="1.1"/>
<circle cx="248.6" cy="90.5" r="1.1"/>
<circle cx="279.8" cy="71.6" r="1.1"/>
<circle cx="292.3" cy="64.1" r="1.1"/>
<circle cx="265.6" cy="76.5" r="1.1"/>
<circle cx="250.6" cy="90.8" r="1.1"/>
<circle cx="296.4" cy="60.8" r="1.1"/>
<circle cx="239.2" cy="95.9" r="1.1"/>
<circle cx="289.2" cy="61.1" r="1.1"/>
<circle cx="240.5" cy="103.7" r="1.1"/>
<circle cx="291.5" cy="61.3" r="1.1"/>
<circle cx="235.6" cy="101.6" r="1.1"/>
<circle cx="296.9" cy="65.5" r="1.1"/>
<circle cx="259.8" cy="85.2" r="1.1"/>
<circle cx="268.6" cy="72.3" r="1.1"/>
<circle cx="306.9" cy="50.8" r="1.1"/>
<circle cx="230.0" cy="99.7" r="1.1"/>
<circle cx="247.6" cy="96.2" r="1.1"/>
<circle cx="300.3" cy="53.9" r="1.1"/>
<circle cx="232.0" cy="106.6" r="1.1"/>
<circle cx="297.3" cy="51.7" r="1.1"/>
<circle cx="237.0" cy="100.8" r="1.1"/>
<circle cx="220.6" cy="106.8" r="1.1"/>
<circle cx="222.0" cy="105.2" r="1.1"/>
<circle cx="225.0" cy="111.8" r="1.1"/>
<circle cx="248.7" cy="83.9" r="1.1"/>
<circle cx="222.0" cy="109.2" r="1.1"/>
<circle cx="277.5" cy="74.1" r="1.1"/>
<circle cx="245.8" cy="96.5" r="1.1"/>
<circle cx="248.9" cy="89.6" r="1.1"/>
<circle cx="239.1" cy="98.1" r="1.1"/>
<circle cx="244.7" cy="89.5" r="1.1"/>
<circle cx="240.9" cy="88.6" r="1.1"/>
<circle cx="263.2" cy="74.6" r="1.1"/>
<circle cx="297.7" cy="57.4" r="1.1"/>
<circle cx="279.8" cy="76.5" r="1.1"/>
<circle cx="254.2" cy="91.4" r="1.1"/>
<circle cx="264.8" cy="76.0" r="1.1"/>
<circle cx="288.7" cy="60.9" r="1.1"/>
<circle cx="243.9" cy="96.0" r="1.1"/>
<circle cx="289.4" cy="66.1" r="1.1"/>
<circle cx="296.0" cy="61.5" r="1.1"/>
<circle cx="279.0" cy="73.1" r="1.1"/>
<circle cx="252.7" cy="95.5" r="1.1"/>
<circle cx="293.0" cy="61.4" r="1.1"/>
<circle cx="238.9" cy="91.1" r="1.1"/>
<circle cx="244.7" cy="94.4" r="1.1"/>
<circle cx="263.7" cy="78.5" r="1.1"/>
<circle cx="217.5" cy="111.7" r="1.1"/>
<circle cx="252.0" cy="89.9" r="1.1"/>
<circle cx="302.5" cy="56.2" r="1.1"/>
<circle cx="286.3" cy="70.8" r="1.1"/>
<circle cx="258.9" cy="87.3" r="1.1"/>
<circle cx="278.2" cy="69.6" r="1.1"/>
<circle cx="247.2" cy="86.3" r="1.1"/>
<circle cx="274.3" cy="69.9" r="1.1"/>
<circle cx="235.9" cy="98.8" r="1.1"/>
<circle cx="286.2" cy="71.6" r="1.1"/>
<circle cx="225.5" cy="95.4" r="1.1"/>
<circle cx="240.3" cy="93.1" r="1.1"/>
<circle cx="289.5" cy="61.0" r="1.1"/>
<circle cx="231.2" cy="99.8" r="1.1"/>
<circle cx="304.2" cy="54.8" r="1.1"/>
<circle cx="233.2" cy="97.6" r="1.1"/>
<circle cx="272.7" cy="73.0" r="1.1"/>
<circle cx="251.4" cy="89.4" r="1.1"/>
<circle cx="239.4" cy="97.5" r="1.1"/>
<circle cx="305.2" cy="55.6" r="1.1"/>
<circle cx="241.8" cy="88.8" r="1.1"/>
<circle cx="233.4" cy="104.6" r="1.1"/>
<circle cx="242.9" cy="90.2" r="1.1"/>
<circle cx="277.8" cy="77.4" r="1.1"/>
<circle cx="251.4" cy="89.9" r="1.1"/>
<circle cx="261.4" cy="87.7" r="1.1"/>
<circle cx="265.0" cy="78.5" r="1.1"/>
<circle cx="250.3" cy="89.1" r="1.1"/>
<circle cx="262.2" cy="87.5" r="1.1"/>
<circle cx="286.6" cy="68.4" r="1.1"/>
<circle cx="282.8" cy="69.1" r="1.1"/>
<circle cx="295.7" cy="55.8" r="1.1"/>
<circle cx="293.8" cy="59.6" r="1.1"/>
<circle cx="284.7" cy="65.8" r="1.1"/>
<circle cx="292.0" cy="69.3" r="1.1"/>
<circle cx="231.1" cy="101.3" r="1.1"/>
<circle cx="251.2" cy="88.6" r="1.1"/>
<circle cx="220.5" cy="105.7" r="1.1"/>
<circle cx="242.6" cy="93.8" r="1.1"/>
<circle cx="275.1" cy="70.6" r="1.1"/>
<circle cx="231.7" cy="106.7" r="1.1"/>
<circle cx="268.4" cy="78.4" r="1.1"/>
<circle cx="251.9" cy="89.8" r="1.1"/>
<circle cx="234.0" cy="100.3" r="1.1"/>
<circle cx="217.1" cy="106.9" r="1.1"/>
<circle cx="266.0" cy="83.2" r="1.1"/>
<circle cx="228.4" cy="110.1" r="1.1"/>
<circle cx="281.2" cy="63.5" r="1.1"/>
<circle cx="220.0" cy="110.8" r="1.1"/>
<circle cx="288.3" cy="59.9" r="1.1"/>
<circle cx="301.2" cy="53.3" r="1.1"/>
<circle cx="286.6" cy="60.5" r="1.1"/>
<circle cx="306.2" cy="52.4" r="1.1"/>
<circle cx="271.9" cy="84.9" r="1.1"/>
<circle cx="298.7" cy="66.1" r="1.1"/>
<circle cx="293.3" cy="65.4" r="1.1"/>
<circle cx="304.5" cy="49.9" r="1.1"/>
<circle cx="228.3" cy="100.4" r="1.1"/>
<circle cx="221.9" cy="111.4" r="1.1"/>
<circle cx="272.0" cy="77.8" r="1.1"/>
<circle cx="257.3" cy="75.7" r="1.1"/>
<circle cx="249.8" cy="101.2" r="1.1"/>
<circle cx="233.7" cy="98.8" r="1.1"/>
<circle cx="247.4" cy="94.1" r="1.1"/>
<circle cx="216.3" cy="108.0" r="1.1"/>
<circle cx="307.3" cy="51.1" r="1.1"/>
<circle cx="222.2" cy="109.2" r="1.1"/>
<circle cx="282.6" cy="71.3" r="1.1"/>
<circle cx="302.2" cy="58.4" r="1.1"/>
<circle cx="245.0" cy="91.0" r="1.1"/>
<circle cx="258.8" cy="84.9" r="1.1"/>
<circle cx="305.0" cy="55.3" r="1.1"/>
<circle cx="272.9" cy="73.6" r="1.1"/>
<circle cx="233.1" cy="100.0" r="1.1"/>
<circle cx="268.8" cy="83.0" r="1.1"/>
<circle cx="266.6" cy="76.2" r="1.1"/>
<circle cx="250.4" cy="84.1" r="1.1"/>
<circle cx="237.3" cy="93.6" r="1.1"/>
<circle cx="231.1" cy="96.8" r="1.1"/>
<circle cx="271.7" cy="72.7" r="1.1"/>
<circle cx="247.9" cy="85.8" r="1.1"/>
<circle cx="297.4" cy="52.7" r="1.1"/>
<circle cx="269.7" cy="71.6" r="1.1"/>
<circle cx="242.6" cy="100.3" r="1.1"/>
<circle cx="274.4" cy="74.0" r="1.1"/>
<circle cx="240.4" cy="96.0" r="1.1"/>
<circle cx="263.0" cy="82.7" r="1.1"/>
<circle cx="272.0" cy="75.0" r="1.1"/>
<circle cx="307.2" cy="50.1" r="1.1"/>
<circle cx="262.7" cy="85.1" r="1.1"/>
<circle cx="252.5" cy="83.0" r="1.1"/>
<circle cx="260.3" cy="85.5" r="1.1"/>
<circle cx="308.1" cy="45.8" r="1.1"/>
<circle cx="278.5" cy="69.1" r="1.1"/>
<circle cx="229.9" cy="109.2" r="1.1"/>
<circle cx="257.1" cy="81.8" r="1.1"/>
<circle cx="250.0" cy="87.1" r="1.1"/>
<circle cx="297.6" cy="59.9" r="1.1"/>
<circle cx="228.4" cy="97.4" r="1.1"/>
<circle cx="222.1" cy="100.6" r="1.1"/>
<circle cx="235.9" cy="105.6" r="1.1"/>
<circle cx="302.2" cy="52.3" r="1.1"/>
<circle cx="229.4" cy="103.1" r="1.1"/>
<circle cx="276.1" cy="74.5" r="1.1"/>
<circle cx="299.0" cy="55.9" r="1.1"/>
<circle cx="271.7" cy="78.4" r="1.1"/>
<circle cx="243.9" cy="90.9" r="1.1"/>
<circle cx="223.0" cy="109.6" r="1.1"/>
<circle cx="303.4" cy="57.0" r="1.1"/>
<circle cx="299.2" cy="59.5" r="1.1"/>
<circle cx="303.5" cy="53.7" r="1.1"/>
<circle cx="239.1" cy="101.2" r="1.1"/>
<circle cx="284.6" cy="67.8" r="1.1"/>
<circle cx="247.2" cy="98.3" r="1.1"/>
<circle cx="258.8" cy="80.1" r="1.1"/>
<circle cx="225.0" cy="102.0" r="1.1"/>
<circle cx="275.4" cy="64.5" r="1.1"/>
<circle cx="250.1" cy="83.6" r="1.1"/>
<circle cx="280.8" cy="74.6" r="1.1"/>
<circle cx="272.1" cy="78.8" r="1.1"/>
<circle cx="305.3" cy="58.4" r="1.1"/>
<circle cx="253.9" cy="83.1" r="1.1"/>
<circle cx="275.7" cy="75.2" r="1.1"/>
<circle cx="289.7" cy="59.3" r="1.1"/>
<circle cx="293.7" cy="65.6" r="1.1"/>
<circle cx="245.2" cy="88.3" r="1.1"/>
<circle cx="289.6" cy="59.4" r="1.1"/>
<circle cx="227.0" cy="107.2" r="1.1"/>
<circle cx="274.9" cy="71.4" r="1.1"/>
<circle cx="286.0" cy="66.8" r="1.1"/>
<circle cx="296.9" cy="61.5" r="1.1"/>
<circle cx="242.9" cy="90.0" r="1.1"/>
<circle cx="241.8" cy="95.4" r="1.1"/>
<circle cx="290.0" cy="64.0" r="1.1"/>
<circle cx="233.8" cy="99.2" r="1.1"/>
<circle cx="271.6" cy="73.8" r="1.1"/>
<circle cx="257.9" cy="87.9" r="1.1"/>
<circle cx="254.9" cy="88.9" r="1.1"/>
<circle cx="305.6" cy="59.4" r="1.1"/>
<circle cx="269.0" cy="68.3" r="1.1"/>
<circle cx="290.4" cy="57.1" r="1.1"/>
<circle cx="224.7" cy="103.3" r="1.1"/>
<circle cx="230.6" cy="96.3" r="1.1"/>
<circle cx="304.1" cy="53.6" r="1.1"/>
<circle cx="275.6" cy="81.0" r="1.1"/>
<circle cx="230.7" cy="101.2" r="1.1"/>
<circle cx="254.2" cy="94.7" r="1.1"/>
<circle cx="268.6" cy="78.0" r="1.1"/>
<circle cx="292.0" cy="59.1" r="1.1"/>
<circle cx="231.0" cy="101.0" r="1.1"/>
<circle cx="244.7" cy="98.4" r="1.1"/>
<circle cx="241.9" cy="93.1" r="1.1"/>
<circle cx="246.7" cy="86.9" r="1.1"/>
<circle cx="266.5" cy="85.9" r="1.1"/>
<circle cx="297.4" cy="54.2" r="1.1"/>
<circle cx="270.5" cy="74.3" r="1.1"/>
<circle cx="254.2" cy="90.2" r="1.1"/>
<circle cx="239.9" cy="97.0" r="1.1"/>
<circle cx="226.0" cy="103.7" r="1.1"/>
<circle cx="269.7" cy="74.0" r="1.1"/>
<circle cx="306.9" cy="48.9" r="1.1"/>
<circle cx="292.1" cy="65.5" r="1.1"/>
<circle cx="232.6" cy="101.1" r="1.1"/>
<circle cx="235.4" cy="108.7" r="1.1"/>
<circle cx="231.3" cy="101.0" r="1.1"/>
<circle cx="227.9" cy="106.8" r="1.1"/>
<circle cx="282.4" cy="65.0" r="1.1"/>
<circle cx="256.4" cy="90.8" r="1.1"/>
<circle cx="258.0" cy="82.8" r="1.1"/>
<circle cx="281.6" cy="71.4" r="1.1"/>
<circle cx="220.4" cy="104.0" r="1.1"/>
<circle cx="249.2" cy="88.3" r="1.1"/>
<circle cx="302.8" cy="53.7" r="1.1"/>
<circle cx="228.8" cy="99.6" r="1.1"/>
<circle cx="293.3" cy="62.8" r="1.1"/>
<circle cx="217.6" cy="109.4" r="1.1"/>
<circle cx="237.4" cy="99.6" r="1.1"/>
<circle cx="233.6" cy="109.4" r="1.1"/>
<circle cx="286.9" cy="65.2" r="1.1"/>
<circle cx="248.8" cy="94.7" r="1.1"/>
<circle cx="289.1" cy="64.0" r="1.1"/>
<circle cx="271.4" cy="66.3" r="1.1"/>
<circle cx="302.4" cy="47.2" r="1.1"/>
<circle cx="227.4" cy="106.7" r="1.1"/>
<circle cx="278.8" cy="65.3" r="1.1"/>
<circle cx="298.7" cy="53.0" r="1.1"/>
<circle cx="242.5" cy="99.2" r="1.1"/>
<circle cx="254.7" cy="80.3" r="1.1"/>
<circle cx="222.8" cy="110.4" r="1.1"/>
<circle cx="283.4" cy="69.1" r="1.1"/>
<circle cx="220.9" cy="106.3" r="1.1"/>
<circle cx="266.4" cy="83.8" r="1.1"/>
<circle cx="217.8" cy="107.7" r="1.1"/>
<circle cx="247.1" cy="96.5" r="1.1"/>
<circle cx="221.0" cy="109.0" r="1.1"/>
<circle cx="243.6" cy="93.1" r="1.1"/>
<circle cx="218.0" cy="110.4" r="1.1"/>
<circle cx="249.3" cy="95.8" r="1.1"/>
<circle cx="225.5" cy="104.1" r="1.1"/>
<circle cx="267.4" cy="82.6" r="1.1"/>
<circle cx="262.5" cy="81.1" r="1.1"/>
<circle cx="293.0" cy="54.5" r="1.1"/>
<circle cx="258.6" cy="88.8" r="1.1"/>
<circle cx="269.4" cy="85.7" r="1.1"/>
<circle cx="221.0" cy="110.7" r="1.1"/>
<circle cx="272.8" cy="83.1" r="1.1"/>
<circle cx="259.9" cy="89.3" r="1.1"/>
<circle cx="303.4" cy="50.5" r="1.1"/>
<circle cx="285.5" cy="60.3" r="1.1"/>
<circle cx="283.8" cy="70.6" r="1.1"/>
<circle cx="236.9" cy="88.9" r="1.1"/>
<circle cx="297.0" cy="57.4" r="1.1"/>
<circle cx="281.4" cy="72.5" r="1.1"/>
<circle cx="221.8" cy="103.1" r="1.1"/>
<circle cx="260.3" cy="85.2" r="1.1"/>
<circle cx="225.8" cy="97.3" r="1.1"/>
<circle cx="257.2" cy="92.5" r="1.1"/>
<circle cx="278.0" cy="67.4" r="1.1"/>
<circle cx="259.7" cy="80.4" r="1.1"/>
<circle cx="299.6" cy="60.5" r="1.1"/>
<circle cx="237.2" cy="98.1" r="1.1"/>
<circle cx="271.9" cy="69.5" r="1.1"/>
<circle cx="307.3" cy="51.5" r="1.1"/>
<circle cx="235.5" cy="98.6" r="1.1"/>
<circle cx="293.5" cy="56.9" r="1.1"/>
<circle cx="288.5" cy="62.8" r="1.1"/>
<circle cx="240.4" cy="85.8" r="1.1"/>
<circle cx="282.1" cy="60.4" r="1.1"/>
<circle cx="284.8" cy="65.6" r="1.1"/>
<circle cx="264.5" cy="85.8" r="1.1"/>
<circle cx="246.0" cy="94.2" r="1.1"/>
<circle cx="235.6" cy="101.5" r="1.1"/>
<circle cx="293.5" cy="63.9" r="1.1"/>
<circle cx="291.7" cy="63.4" r="1.1"/>
<circle cx="293.0" cy="61.5" r="1.1"/>
<circle cx="220.2" cy="102.3" r="1.1"/>
<circle cx="298.3" cy="54.2" r="1.1"/>
<circle cx="257.3" cy="88.1" r="1.1"/>
<circle cx="250.0" cy="96.2" r="1.1"/>
<circle cx="222.5" cy="101.8" r="1.1"/>
<circle cx="258.7" cy="88.5" r="1.1"/>
<circle cx="257.7" cy="87.2" r="1.1"/>
<circle cx="238.7" cy="96.8" r="1.1"/>
<circle cx="280.1" cy="66.0" r="1.1"/>
<circle cx="272.2" cy="73.5" r="1.1"/>
<circle cx="272.6" cy="77.2" r="1.1"/>
<circle cx="277.2" cy="67.8" r="1.1"/>
<circle cx="278.8" cy="64.1" r="1.1"/>
<circle cx="290.5" cy="66.4" r="1.1"/>
<circle cx="290.9" cy="56.7" r="1.1"/>
<circle cx="272.7" cy="74.8" r="1.1"/>
<circle cx="295.5" cy="62.6" r="1.1"/>
<circle cx="292.5" cy="64.1" r="1.1"/>
<circle cx="306.8" cy="59.6" r="1.1"/>
<circle cx="307.3" cy="56.5" r="1.1"/>
<circle cx="298.7" cy="57.5" r="1.1"/>
<circle cx="248.5" cy="90.3" r="1.1"/>
<circle cx="252.5" cy="89.2" r="1.1"/>
<circle cx="244.3" cy="86.1" r="1.1"/>
<circle cx="227.6" cy="109.0" r="1.1"/>
<circle cx="247.4" cy="94.4" r="1.1"/>
<circle cx="234.2" cy="103.8" r="1.1"/>
<circle cx="243.9" cy="94.5" r="1.1"/>
<circle cx="243.0" cy="100.4" r="1.1"/>
<circle cx="265.4" cy="78.9" r="1.1"/>
<circle cx="248.3" cy="92.8" r="1.1"/>
<circle cx="280.6" cy="60.2" r="1.1"/>
<circle cx="295.8" cy="58.9" r="1.1"/>
<circle cx="284.9" cy="67.9" r="1.1"/>
<circle cx="307.1" cy="50.8" r="1.1"/>
<circle cx="273.6" cy="76.7" r="1.1"/>
<circle cx="228.6" cy="98.3" r="1.1"/>
<circle cx="306.3" cy="52.9" r="1.1"/>
<circle cx="222.7" cy="110.0" r="1.1"/>
<circle cx="244.0" cy="97.1" r="1.1"/>
<circle cx="245.6" cy="98.2" r="1.1"/>
<circle cx="297.9" cy="66.7" r="1.1"/>
<circle cx="239.5" cy="95.8" r="1.1"/>
<circle cx="223.2" cy="109.7" r="1.1"/>
<circle cx="303.4" cy="48.3" r="1.1"/>
<circle cx="216.3" cy="106.7" r="1.1"/>
<circle cx="221.8" cy="101.8" r="1.1"/>
<circle cx="257.2" cy="90.8" r="1.1"/>
<circle cx="280.5" cy="63.3" r="1.1"/>
<circle cx="278.5" cy="69.0" r="1.1"/>
<circle cx="282.5" cy="69.2" r="1.1"/>
<circle cx="269.4" cy="80.9" r="1.1"/>
<circle cx="264.5" cy="80.6" r="1.1"/>
<circle cx="248.3" cy="86.8" r="1.1"/>
<circle cx="249.9" cy="89.7" r="1.1"/>
<circle cx="285.3" cy="65.7" r="1.1"/>
<circle cx="270.3" cy="73.3" r="1.1"/>
<circle cx="272.5" cy="73.4" r="1.1"/>
<circle cx="304.0" cy="54.4" r="1.1"/>
<circle cx="229.7" cy="99.9" r="1.1"/>
<circle cx="261.6" cy="86.1" r="1.1"/>
<circle cx="245.0" cy="90.8" r="1.1"/>
<circle cx="265.1" cy="78.5" r="1.1"/>
<circle cx="296.6" cy="57.6" r="1.1"/>
<circle cx="280.7" cy="68.2" r="1.1"/>
<circle cx="283.0" cy="60.0" r="1.1"/>
<circle cx="230.6" cy="92.0" r="1.1"/>
<circle cx="265.9" cy="81.2" r="1.1"/>
<circle cx="250.1" cy="88.1" r="1.1"/>
<circle cx="220.1" cy="110.8" r="1.1"/>
<circle cx="248.7" cy="86.5" r="1.1"/>
<circle cx="256.0" cy="83.3" r="1.1"/>
<circle cx="276.7" cy="66.7" r="1.1"/>
<circle cx="256.8" cy="81.6" r="1.1"/>
<circle cx="240.3" cy="94.6" r="1.1"/>
<circle cx="289.0" cy="66.8" r="1.1"/>
<circle cx="267.1" cy="85.8" r="1.1"/>
<circle cx="280.0" cy="71.3" r="1.1"/>
<circle cx="234.5" cy="104.1" r="1.1"/>
<circle cx="224.5" cy="106.4" r="1.1"/>
<circle cx="254.5" cy="84.3" r="1.1"/>
<circle cx="294.2" cy="59.1" r="1.1"/>
<circle cx="252.0" cy="85.3" r="1.1"/>
<circle cx="302.8" cy="54.5" r="1.1"/>
<circle cx="216.6" cy="110.7" r="1.1"/>
<circle cx="271.9" cy="73.5" r="1.1"/>
<circle cx="226.7" cy="107.0" r="1.1"/>
<circle cx="270.8" cy="77.8" r="1.1"/>
<circle cx="289.8" cy="61.7" r="1.1"/>
<circle cx="229.4" cy="105.9" r="1.1"/>
<circle cx="218.8" cy="105.7" r="1.1"/>
<circle cx="261.1" cy="87.8" r="1.1"/>
<circle cx="292.9" cy="56.5" r="1.1"/>
<circle cx="248.0" cy="99.0" r="1.1"/>
<circle cx="242.8" cy="92.1" r="1.1"/>
<circle cx="295.8" cy="50.7" r="1.1"/>
<circle cx="301.1" cy="56.9" r="1.1"/>
<circle cx="272.9" cy="67.4" r="1.1"/>
<circle cx="262.7" cy="78.3" r="1.1"/>
<circle cx="268.5" cy="72.2" r="1.1"/>
<circle cx="254.6" cy="84.4" r="1.1"/>
<circle cx="284.2" cy="63.4" r="1.1"/>
<circle cx="268.6" cy="79.5" r="1.1"/>
<circle cx="222.0" cy="107.0" r="1.1"/>
<circle cx="223.5" cy="109.9" r="1.1"/>
<circle cx="272.3" cy="73.5" r="1.1"/>
<circle cx="267.1" cy="76.1" r="1.1"/>
<circle cx="270.0" cy="72.9" r="1.1"/>
<circle cx="274.3" cy="70.2" r="1.1"/>
<circle cx="293.8" cy="59.2" r="1.1"/>
<circle cx="270.5" cy="76.0" r="1.1"/>
<circle cx="253.8" cy="85.6" r="1.1"/>
<circle cx="235.2" cy="99.4" r="1.1"/>
<circle cx="290.4" cy="61.7" r="1.1"/>
<circle cx="230.4" cy="96.5" r="1.1"/>
<circle cx="272.7" cy="73.8" r="1.1"/>
<circle cx="284.9" cy="67.5" r="1.1"/>
<circle cx="286.0" cy="58.8" r="1.1"/>
<circle cx="296.1" cy="63.2" r="1.1"/>
<circle cx="303.9" cy="62.8" r="1.1"/>
<circle cx="239.9" cy="99.1" r="1.1"/>
<circle cx="238.4" cy="90.6" r="1.1"/>
<circle cx="285.6" cy="60.7" r="1.1"/>
<circle cx="249.6" cy="81.5" r="1.1"/>
<circle cx="306.3" cy="55.6" r="1.1"/>
<circle cx="302.2" cy="59.3" r="1.1"/>
<circle cx="251.1" cy="93.5" r="1.1"/>
<circle cx="238.9" cy="103.4" r="1.1"/>
<circle cx="236.9" cy="106.2" r="1.1"/>
<circle cx="249.9" cy="98.5" r="1.1"/>
<circle cx="263.8" cy="76.6" r="1.1"/>
<circle cx="267.0" cy="81.0" r="1.1"/>
<circle cx="237.9" cy="103.5" r="1.1"/>
<circle cx="256.6" cy="76.2" r="1.1"/>
<circle cx="269.0" cy="84.7" r="1.1"/>
<circle cx="257.9" cy="80.6" r="1.1"/>
<circle cx="237.2" cy="90.5" r="1.1"/>
<circle cx="234.9" cy="99.2" r="1.1"/>
<circle cx="232.0" cy="99.9" r="1.1"/>
<circle cx="271.4" cy="79.3" r="1.1"/>
<circle cx="243.4" cy="98.2" r="1.1"/>
<circle cx="279.5" cy="68.1" r="1.1"/>
<circle cx="305.8" cy="44.3" r="1.1"/>
<circle cx="266.7" cy="78.0" r="1.1"/>
<circle cx="256.0" cy="89.8" r="1.1"/>
<circle cx="282.3" cy="63.1" r="1.1"/>
<circle cx="307.7" cy="54.4" r="1.1"/>
<circle cx="282.2" cy="74.5" r="1.1"/>
<circle cx="284.4" cy="72.3" r="1.1"/>
<circle cx="274.5" cy="80.2" r="1.1"/>
<circle cx="224.5" cy="109.0" r="1.1"/>
<circle cx="260.4" cy="77.0" r="1.1"/>
<circle cx="263.2" cy="82.7" r="1.1"/>
<circle cx="232.5" cy="99.2" r="1.1"/>
<circle cx="224.4" cy="108.8" r="1.1"/>
<circle cx="216.8" cy="101.4" r="1.1"/>
<circle cx="274.8" cy="74.5" r="1.1"/>
<circle cx="231.3" cy="105.6" r="1.1"/>
<circle cx="226.7" cy="101.2" r="1.1"/>
<circle cx="259.5" cy="91.6" r="1.1"/>
<circle cx="245.9" cy="95.3" r="1.1"/>
<circle cx="271.3" cy="76.2" r="1.1"/>
<circle cx="220.5" cy="103.4" r="1.1"/>
<circle cx="261.0" cy="83.0" r="1.1"/>
<circle cx="256.4" cy="82.5" r="1.1"/>
<circle cx="271.5" cy="76.1" r="1.1"/>
<circle cx="289.3" cy="56.4" r="1.1"/>
<circle cx="238.0" cy="91.6" r="1.1"/>
<circle cx="239.6" cy="97.6" r="1.1"/>
<circle cx="256.4" cy="87.0" r="1.1"/>
<circle cx="240.5" cy="99.6" r="1.1"/>
<circle cx="256.5" cy="90.6" r="1.1"/>
<circle cx="266.6" cy="74.8" r="1.1"/>
<circle cx="303.5" cy="53.8" r="1.1"/>
<circle cx="291.4" cy="62.0" r="1.1"/>
<circle cx="261.7" cy="80.6" r="1.1"/>
<circle cx="218.0" cy="110.8" r="1.1"/>
<circle cx="245.2" cy="92.3" r="1.1"/>
<circle cx="305.2" cy="58.3" r="1.1"/>
<circle cx="299.9" cy="63.9" r="1.1"/>
<circle cx="238.3" cy="101.5" r="1.1"/>
<circle cx="301.1" cy="51.2" r="1.1"/>
<circle cx="234.6" cy="109.0" r="1.1"/>
<circle cx="270.2" cy="75.6" r="1.1"/>
<circle cx="238.4" cy="95.3" r="1.1"/>
<circle cx="237.1" cy="93.0" r="1.1"/>
<circle cx="270.1" cy="76.1" r="1.1"/>
<circle cx="258.0" cy="87.4" r="1.1"/>
<circle cx="275.5" cy="72.7" r="1.1"/>
<circle cx="219.4" cy="105.0" r="1.1"/>
<circle cx="240.4" cy="93.0" r="1.1"/>
<circle cx="257.2" cy="80.3" r="1.1"/>
<circle cx="273.4" cy="68.0" r="1.1"/>
<circle cx="265.7" cy="81.9" r="1.1"/>
<circle cx="239.0" cy="106.1" r="1.1"/>
<circle cx="225.8" cy="102.0" r="1.1"/>
<circle cx="267.8" cy="73.5" r="1.1"/>
<circle cx="302.9" cy="62.4" r="1.1"/>
<circle cx="257.8" cy="80.8" r="1.1"/>
<circle cx="261.4" cy="84.1" r="1.1"/>
<circle cx="300.9" cy="53.9" r="1.1"/>
<circle cx="245.3" cy="97.4" r="1.1"/>
<circle cx="287.2" cy="65.4" r="1.1"/>
<circle cx="260.5" cy="85.4" r="1.1"/>
<circle cx="239.5" cy="97.0" r="1.1"/>
<circle cx="239.0" cy="101.4" r="1.1"/>
<circle cx="255.3" cy="89.2" r="1.1"/>
<circle cx="266.9" cy="73.8" r="1.1"/>
<circle cx="243.6" cy="90.5" r="1.1"/>
<circle cx="260.3" cy="83.0" r="1.1"/>
<circle cx="227.1" cy="108.0" r="1.1"/>
<circle cx="227.9" cy="93.9" r="1.1"/>
<circle cx="250.0" cy="88.0" r="1.1"/>
<circle cx="283.7" cy="67.8" r="1.1"/>
<circle cx="222.4" cy="109.6" r="1.1"/>
<circle cx="287.8" cy="63.9" r="1.1"/>
<circle cx="289.8" cy="66.5" r="1.1"/>
<circle cx="264.5" cy="79.2" r="1.1"/>
<circle cx="264.4" cy="78.3" r="1.1"/>
<circle cx="258.5" cy="88.2" r="1.1"/>
<circle cx="254.0" cy="91.8" r="1.1"/>
<circle cx="292.3" cy="71.1" r="1.1"/>
<circle cx="279.6" cy="73.3" r="1.1"/>
<circle cx="277.0" cy="72.8" r="1.1"/>
<circle cx="272.5" cy="81.0" r="1.1"/>
<circle cx="238.2" cy="99.7" r="1.1"/>
<circle cx="280.2" cy="66.1" r="1.1"/>
<circle cx="257.4" cy="87.6" r="1.1"/>
<circle cx="274.3" cy="73.0" r="1.1"/>
<circle cx="282.9" cy="76.0" r="1.1"/>
<circle cx="257.4" cy="91.5" r="1.1"/>
<circle cx="292.4" cy="58.8" r="1.1"/>
<circle cx="267.4" cy="82.7" r="1.1"/>
<circle cx="241.8" cy="95.8" r="1.1"/>
<circle cx="303.6" cy="46.6" r="1.1"/>
<circle cx="288.9" cy="55.4" r="1.1"/>
<circle cx="218.0" cy="109.9" r="1.1"/>
<circle cx="302.5" cy="55.6" r="1.1"/>
<circle cx="291.9" cy="59.9" r="1.1"/>
<circle cx="224.9" cy="109.3" r="1.1"/>
<circle cx="261.8" cy="80.1" r="1.1"/>
<circle cx="229.2" cy="107.5" r="1.1"/>
<circle cx="254.8" cy="89.7" r="1.1"/>
<circle cx="282.6" cy="76.9" r="1.1"/>
<circle cx="243.1" cy="98.6" r="1.1"/>
<circle cx="271.3" cy="68.2" r="1.1"/>
<circle cx="303.0" cy="56.1" r="1.1"/>
<circle cx="235.1" cy="99.2" r="1.1"/>
<circle cx="266.9" cy="85.3" r="1.1"/>
<circle cx="259.4" cy="87.9" r="1.1"/>
<circle cx="229.9" cy="102.2" r="1.1"/>
<circle cx="227.1" cy="99.2" r="1.1"/>
<circle cx="253.2" cy="86.5" r="1.1"/>
<circle cx="272.1" cy="77.0" r="1.1"/>
<circle cx="248.2" cy="94.3" r="1.1"/>
<circle cx="238.7" cy="90.2" r="1.1"/>
<circle cx="283.4" cy="69.4" r="1.1"/>
<circle cx="251.6" cy="91.8" r="1.1"/>
<circle cx="231.0" cy="99.4" r="1.1"/>
<circle cx="224.8" cy="105.4" r="1.1"/>
<circle cx="255.5" cy="90.4" r="1.1"/>
<circle cx="297.0" cy="60.7" r="1.1"/>
<circle cx="301.7" cy="64.0" r="1.1"/>
<circle cx="270.7" cy="71.5" r="1.1"/>
<circle cx="273.4" cy="72.0" r="1.1"/>
<circle cx="285.5" cy="61.2" r="1.1"/>
<circle cx="293.6" cy="58.0" r="1.1"/>
<circle cx="229.8" cy="105.1" r="1.1"/>
<circle cx="254.2" cy="90.0" r="1.1"/>
<circle cx="257.5" cy="85.3" r="1.1"/>
<circle cx="248.2" cy="86.7" r="1.1"/>
<circle cx="265.4" cy="85.0" r="1.1"/>
<circle cx="246.5" cy="102.4" r="1.1"/>
<circle cx="261.7" cy="84.5" r="1.1"/>
<circle cx="244.2" cy="92.0" r="1.1"/>
<circle cx="218.6" cy="107.1" r="1.1"/>
<circle cx="285.9" cy="64.4" r="1.1"/>
<circle cx="223.5" cy="105.7" r="1.1"/>
<circle cx="261.3" cy="84.6" r="1.1"/>
<circle cx="264.3" cy="71.8" r="1.1"/>
<circle cx="218.8" cy="108.6" r="1.1"/>
<circle cx="226.0" cy="110.3" r="1.1"/>
<circle cx="265.8" cy="78.0" r="1.1"/>
<circle cx="302.4" cy="52.8" r="1.1"/>
<circle cx="266.2" cy="79.5" r="1.1"/>
<circle cx="232.0" cy="108.5" r="1.1"/>
<circle cx="256.9" cy="85.7" r="1.1"/>
<circle cx="226.6" cy="106.8" r="1.1"/>
<circle cx="260.2" cy="84.8" r="1.1"/>
<circle cx="242.9" cy="86.1" r="1.1"/>
<circle cx="216.4" cy="111.1" r="1.1"/>
<circle cx="296.9" cy="57.6" r="1.1"/>
<circle cx="302.7" cy="61.5" r="1.1"/>
<circle cx="256.3" cy="87.3" r="1.1"/>
<circle cx="253.8" cy="89.8" r="1.1"/>
<circle cx="235.3" cy="103.3" r="1.1"/>
<circle cx="255.5" cy="87.6" r="1.1"/>
<circle cx="282.0" cy="68.5" r="1.1"/>
<circle cx="260.0" cy="76.2" r="1.1"/>
<circle cx="287.0" cy="65.0" r="1.1"/>
<circle cx="251.8" cy="95.1" r="1.1"/>
<circle cx="259.3" cy="78.4" r="1.1"/>
<circle cx="267.4" cy="79.1" r="1.1"/>
<circle cx="279.8" cy="79.4" r="1.1"/>
<circle cx="328.2" cy="35.6" r="1.1"/>
<circle cx="299.2" cy="53.4" r="1.1"/>
<circle cx="306.9" cy="54.5" r="1.1"/>
<circle cx="312.1" cy="47.1" r="1.1"/>
<circle cx="306.1" cy="56.7" r="1.1"/>
<circle cx="322.2" cy="47.3" r="1.1"/>
<circle cx="300.7" cy="55.7" r="1.1"/>
<circle cx="303.2" cy="61.1" r="1.1"/>
<circle cx="306.5" cy="57.1" r="1.1"/>
<circle cx="301.0" cy="60.6" r="1.1"/>
<circle cx="343.9" cy="21.2" r="1.1"/>
<circle cx="309.8" cy="48.1" r="1.1"/>
<circle cx="341.6" cy="27.0" r="1.1"/>
<circle cx="306.4" cy="52.5" r="1.1"/>
<circle cx="360.5" cy="10.6" r="1.1"/>
<circle cx="301.0" cy="48.0" r="1.1"/>
<circle cx="332.0" cy="35.0" r="1.1"/>
<circle cx="324.8" cy="47.0" r="1.1"/>
<circle cx="298.7" cy="66.7" r="1.1"/>
<circle cx="345.8" cy="16.8" r="1.1"/>
<circle cx="309.0" cy="55.6" r="1.1"/>
<circle cx="331.0" cy="28.6" r="1.1"/>
<circle cx="300.0" cy="55.8" r="1.1"/>
<circle cx="347.8" cy="14.7" r="1.1"/>
<circle cx="313.0" cy="50.2" r="1.1"/>
<circle cx="308.3" cy="41.0" r="1.1"/>
<circle cx="324.1" cy="32.7" r="1.1"/>
<circle cx="300.7" cy="54.3" r="1.1"/>
<circle cx="329.0" cy="36.0" r="1.1"/>
<circle cx="326.3" cy="35.3" r="1.1"/>
<circle cx="312.7" cy="48.0" r="1.1"/>
<circle cx="308.2" cy="41.7" r="1.1"/>
<circle cx="317.9" cy="45.9" r="1.1"/>
<circle cx="306.6" cy="53.6" r="1.1"/>
<circle cx="329.6" cy="36.9" r="1.1"/>
<circle cx="302.9" cy="52.5" r="1.1"/>
<circle cx="314.0" cy="41.4" r="1.1"/>
<circle cx="361.4" cy="13.2" r="1.1"/>
<circle cx="298.5" cy="61.2" r="1.1"/>
<circle cx="301.2" cy="48.5" r="1.1"/>
<circle cx="301.6" cy="44.0" r="1.1"/>
<circle cx="329.5" cy="40.4" r="1.1"/>
<circle cx="332.0" cy="33.1" r="1.1"/>
<circle cx="322.8" cy="39.0" r="1.1"/>
<circle cx="360.3" cy="14.3" r="1.1"/>
<circle cx="302.5" cy="57.1" r="1.1"/>
<circle cx="309.2" cy="54.5" r="1.1"/>
<circle cx="317.4" cy="47.1" r="1.1"/>
<circle cx="301.0" cy="62.8" r="1.1"/>
<circle cx="335.8" cy="22.1" r="1.1"/>
<circle cx="324.6" cy="41.5" r="1.1"/>
<circle cx="304.4" cy="53.3" r="1.1"/>
<circle cx="330.0" cy="39.8" r="1.1"/>
<circle cx="341.7" cy="25.1" r="1.1"/>
<circle cx="306.4" cy="53.4" r="1.1"/>
<circle cx="321.4" cy="43.4" r="1.1"/>
<circle cx="307.2" cy="58.4" r="1.1"/>
<circle cx="304.7" cy="55.1" r="1.1"/>
<circle cx="334.7" cy="24.7" r="1.1"/>
<circle cx="314.8" cy="44.7" r="1.1"/>
<circle cx="331.1" cy="35.0" r="1.1"/>
<circle cx="300.1" cy="53.8" r="1.1"/>
<circle cx="301.6" cy="52.1" r="1.1"/>
<circle cx="297.8" cy="58.3" r="1.1"/>
<circle cx="318.1" cy="40.2" r="1.1"/>
<circle cx="298.2" cy="55.6" r="1.1"/>
<circle cx="326.2" cy="28.6" r="1.1"/>
<circle cx="306.4" cy="56.8" r="1.1"/>
<circle cx="303.0" cy="54.1" r="1.1"/>
<circle cx="307.4" cy="44.8" r="1.1"/>
<circle cx="336.9" cy="29.3" r="1.1"/>
<circle cx="325.3" cy="31.9" r="1.1"/>
<circle cx="301.8" cy="60.3" r="1.1"/>
<circle cx="363.6" cy="8.3" r="1.1"/>
<circle cx="308.7" cy="45.1" r="1.1"/>
<circle cx="309.6" cy="60.5" r="1.1"/>
<circle cx="358.0" cy="12.5" r="1.1"/>
<circle cx="313.8" cy="47.7" r="1.1"/>
<circle cx="362.0" cy="8.4" r="1.1"/>
<circle cx="312.9" cy="53.6" r="1.1"/>
<circle cx="306.4" cy="56.0" r="1.1"/>
<circle cx="305.0" cy="54.7" r="1.1"/>
<circle cx="303.6" cy="48.7" r="1.1"/>
<circle cx="298.5" cy="57.7" r="1.1"/>
<circle cx="316.9" cy="42.9" r="1.1"/>
<circle cx="301.3" cy="55.8" r="1.1"/>
<circle cx="360.2" cy="12.7" r="1.1"/>
<circle cx="338.6" cy="24.6" r="1.1"/>
<circle cx="308.0" cy="51.1" r="1.1"/>
<circle cx="301.8" cy="57.1" r="1.1"/>
<circle cx="321.6" cy="40.5" r="1.1"/>
<circle cx="303.8" cy="51.7" r="1.1"/>
<circle cx="304.3" cy="47.3" r="1.1"/>
<circle cx="309.4" cy="46.2" r="1.1"/>
<circle cx="317.7" cy="42.0" r="1.1"/>
<circle cx="312.2" cy="49.6" r="1.1"/>
<circle cx="300.1" cy="56.6" r="1.1"/>
<circle cx="335.8" cy="34.5" r="1.1"/>
<circle cx="329.5" cy="37.3" r="1.1"/>
<circle cx="317.4" cy="38.7" r="1.1"/>
<circle cx="308.7" cy="59.0" r="1.1"/>
<circle cx="311.4" cy="43.6" r="1.1"/>
<circle cx="343.3" cy="22.7" r="1.1"/>
<circle cx="313.6" cy="45.7" r="1.1"/>
<circle cx="307.9" cy="47.0" r="1.1"/>
<circle cx="311.9" cy="47.1" r="1.1"/>
<circle cx="355.3" cy="16.4" r="1.1"/>
<circle cx="298.2" cy="53.0" r="1.1"/>
<circle cx="316.5" cy="40.0" r="1.1"/>
<circle cx="303.8" cy="53.3" r="1.1"/>
<circle cx="308.6" cy="45.6" r="1.1"/>
<circle cx="303.0" cy="44.9" r="1.1"/>
<circle cx="309.2" cy="41.4" r="1.1"/>
<circle cx="336.9" cy="31.5" r="1.1"/>
<circle cx="299.6" cy="66.8" r="1.1"/>
<circle cx="335.3" cy="31.4" r="1.1"/>
<circle cx="338.8" cy="25.8" r="1.1"/>
<circle cx="306.5" cy="53.4" r="1.1"/>
<circle cx="315.5" cy="45.9" r="1.1"/>
<circle cx="326.0" cy="38.3" r="1.1"/>
<circle cx="313.8" cy="53.0" r="1.1"/>
<circle cx="303.7" cy="50.5" r="1.1"/>
<circle cx="311.4" cy="38.0" r="1.1"/>
<circle cx="330.5" cy="29.9" r="1.1"/>
<circle cx="303.9" cy="48.6" r="1.1"/>
<circle cx="332.0" cy="35.7" r="1.1"/>
<circle cx="300.6" cy="56.6" r="1.1"/>
<circle cx="298.4" cy="60.7" r="1.1"/>
<circle cx="316.3" cy="44.2" r="1.1"/>
<circle cx="307.7" cy="53.1" r="1.1"/>
<circle cx="313.7" cy="46.4" r="1.1"/>
<circle cx="321.2" cy="32.8" r="1.1"/>
<circle cx="318.9" cy="36.3" r="1.1"/>
<circle cx="301.3" cy="61.8" r="1.1"/>
<circle cx="305.5" cy="41.3" r="1.1"/>
<circle cx="300.0" cy="54.8" r="1.1"/>
<circle cx="316.2" cy="49.6" r="1.1"/>
<circle cx="302.1" cy="55.7" r="1.1"/>
<circle cx="336.0" cy="36.6" r="1.1"/>
<circle cx="315.3" cy="50.3" r="1.1"/>
<circle cx="299.1" cy="60.5" r="1.1"/>
<circle cx="308.5" cy="50.1" r="1.1"/>
<circle cx="300.9" cy="53.0" r="1.1"/>
<circle cx="301.8" cy="53.9" r="1.1"/>
<circle cx="357.0" cy="10.6" r="1.1"/>
<circle cx="308.3" cy="58.4" r="1.1"/>
<circle cx="307.0" cy="42.8" r="1.1"/>
<circle cx="338.3" cy="40.0" r="1.1"/>
<circle cx="312.6" cy="46.4" r="1.1"/>
<circle cx="301.6" cy="46.9" r="1.1"/>
<circle cx="344.5" cy="24.2" r="1.1"/>
<circle cx="328.8" cy="36.7" r="1.1"/>
<circle cx="303.1" cy="57.3" r="1.1"/>
<circle cx="309.1" cy="45.0" r="1.1"/>
<circle cx="304.3" cy="54.3" r="1.1"/>
<circle cx="354.6" cy="14.6" r="1.1"/>
<circle cx="332.4" cy="28.1" r="1.1"/>
<circle cx="309.5" cy="49.3" r="1.1"/>
<circle cx="352.3" cy="19.4" r="1.1"/>
<circle cx="315.4" cy="44.1" r="1.1"/>
<circle cx="356.9" cy="10.6" r="1.1"/>
<circle cx="313.3" cy="44.8" r="1.1"/>
<circle cx="351.1" cy="13.9" r="1.1"/>
<circle cx="298.8" cy="55.5" r="1.1"/>
<circle cx="305.9" cy="55.2" r="1.1"/>
<circle cx="305.6" cy="50.1" r="1.1"/>
<circle cx="359.6" cy="7.0" r="1.1"/>
<circle cx="321.5" cy="38.9" r="1.1"/>
<circle cx="357.0" cy="13.5" r="1.1"/>
<circle cx="355.4" cy="16.0" r="1.1"/>
<circle cx="315.5" cy="58.4" r="1.1"/>
<circle cx="321.6" cy="38.2" r="1.1"/>
<circle cx="348.9" cy="17.9" r="1.1"/>
<circle cx="305.8" cy="51.7" r="1.1"/>
<circle cx="298.4" cy="58.1" r="1.1"/>
<circle cx="300.7" cy="60.8" r="1.1"/>
<circle cx="320.8" cy="39.3" r="1.1"/>
<circle cx="307.6" cy="52.7" r="1.1"/>
<circle cx="346.9" cy="21.2" r="1.1"/>
<circle cx="327.6" cy="34.5" r="1.1"/>
<circle cx="318.8" cy="48.1" r="1.1"/>
<circle cx="329.7" cy="32.7" r="1.1"/>
<circle cx="306.7" cy="56.9" r="1.1"/>
<circle cx="327.0" cy="38.4" r="1.1"/>
<circle cx="299.6" cy="56.3" r="1.1"/>
<circle cx="303.0" cy="47.0" r="1.1"/>
<circle cx="307.8" cy="54.4" r="1.1"/>
<circle cx="361.7" cy="11.8" r="1.1"/>
<circle cx="325.0" cy="46.1" r="1.1"/>
<circle cx="323.4" cy="43.8" r="1.1"/>
<circle cx="309.5" cy="60.9" r="1.1"/>
<circle cx="313.6" cy="49.7" r="1.1"/>
<circle cx="306.7" cy="53.7" r="1.1"/>
<circle cx="339.1" cy="34.2" r="1.1"/>
<circle cx="328.1" cy="39.1" r="1.1"/>
<circle cx="314.0" cy="49.2" r="1.1"/>
<circle cx="312.9" cy="42.4" r="1.1"/>
<circle cx="320.1" cy="48.3" r="1.1"/>
<circle cx="338.0" cy="30.2" r="1.1"/>
<circle cx="354.8" cy="8.5" r="1.1"/>
<circle cx="303.9" cy="55.3" r="1.1"/>
<circle cx="337.2" cy="28.3" r="1.1"/>
<circle cx="301.3" cy="56.8" r="1.1"/>
<circle cx="361.5" cy="10.7" r="1.1"/>
<circle cx="311.1" cy="51.7" r="1.1"/>
<circle cx="304.0" cy="49.6" r="1.1"/>
<circle cx="302.6" cy="48.3" r="1.1"/>
<circle cx="298.7" cy="54.3" r="1.1"/>
<circle cx="299.2" cy="60.8" r="1.1"/>
<circle cx="319.5" cy="38.0" r="1.1"/>
<circle cx="325.7" cy="36.1" r="1.1"/>
<circle cx="303.3" cy="48.0" r="1.1"/>
<circle cx="321.8" cy="38.8" r="1.1"/>
<circle cx="314.3" cy="36.2" r="1.1"/>
<circle cx="335.0" cy="35.0" r="1.1"/>
<circle cx="303.0" cy="52.8" r="1.1"/>
<circle cx="353.9" cy="13.7" r="1.1"/>
<circle cx="328.5" cy="31.6" r="1.1"/>
<circle cx="347.1" cy="19.7" r="1.1"/>
<circle cx="327.8" cy="37.3" r="1.1"/>
<circle cx="312.8" cy="47.1" r="1.1"/>
<circle cx="322.3" cy="36.3" r="1.1"/>
<circle cx="311.7" cy="48.8" r="1.1"/>
<circle cx="336.8" cy="31.3" r="1.1"/>
<circle cx="314.9" cy="42.9" r="1.1"/>
<circle cx="305.8" cy="49.7" r="1.1"/>
<circle cx="308.7" cy="49.3" r="1.1"/>
<circle cx="316.1" cy="45.5" r="1.1"/>
<circle cx="311.3" cy="50.1" r="1.1"/>
<circle cx="300.5" cy="58.0" r="1.1"/>
<circle cx="328.0" cy="41.8" r="1.1"/>
<circle cx="328.8" cy="40.2" r="1.1"/>
<circle cx="329.8" cy="38.5" r="1.1"/>
<circle cx="324.5" cy="43.4" r="1.1"/>
<circle cx="301.1" cy="53.9" r="1.1"/>
<circle cx="298.7" cy="47.4" r="1.1"/>
<circle cx="315.3" cy="39.3" r="1.1"/>
<circle cx="330.8" cy="36.0" r="1.1"/>
<circle cx="357.8" cy="12.5" r="1.1"/>
<circle cx="300.0" cy="57.6" r="1.1"/>
<circle cx="328.0" cy="41.0" r="1.1"/>
<circle cx="321.2" cy="34.9" r="1.1"/>
<circle cx="338.5" cy="31.5" r="1.1"/>
<circle cx="319.2" cy="44.9" r="1.1"/>
<circle cx="345.5" cy="16.6" r="1.1"/>
<circle cx="302.7" cy="53.4" r="1.1"/>
<circle cx="308.6" cy="53.1" r="1.1"/>
<circle cx="338.1" cy="33.7" r="1.1"/>
<circle cx="298.1" cy="58.0" r="1.1"/>
<circle cx="297.9" cy="51.0" r="1.1"/>
<circle cx="297.7" cy="63.1" r="1.1"/>
<circle cx="311.9" cy="47.5" r="1.1"/>
<circle cx="303.1" cy="60.7" r="1.1"/>
<circle cx="343.7" cy="18.5" r="1.1"/>
<circle cx="321.3" cy="33.1" r="1.1"/>
<circle cx="306.7" cy="54.1" r="1.1"/>
<circle cx="335.2" cy="31.4" r="1.1"/>
<circle cx="340.3" cy="32.0" r="1.1"/>
<circle cx="325.6" cy="43.9" r="1.1"/>
<circle cx="305.2" cy="59.5" r="1.1"/>
<circle cx="330.9" cy="40.6" r="1.1"/>
<circle cx="319.4" cy="39.4" r="1.1"/>
<circle cx="298.2" cy="56.4" r="1.1"/>
</g>
<g fill="#179c6b">
<circle cx="242.4" cy="81.1" r="1.1"/>
<circle cx="220.5" cy="89.7" r="1.1"/>
<circle cx="222.7" cy="93.6" r="1.1"/>
<circle cx="240.6" cy="86.1" r="1.1"/>
<circle cx="264.1" cy="70.6" r="1.1"/>
<circle cx="219.7" cy="98.7" r="1.1"/>
<circle cx="271.3" cy="64.0" r="1.1"/>
<circle cx="281.2" cy="59.2" r="1.1"/>
<circle cx="254.7" cy="77.0" r="1.1"/>
<circle cx="245.1" cy="78.6" r="1.1"/>
<circle cx="232.3" cy="90.6" r="1.1"/>
<circle cx="286.2" cy="55.2" r="1.1"/>
<circle cx="239.9" cy="84.5" r="1.1"/>
<circle cx="268.5" cy="67.6" r="1.1"/>
<circle cx="290.4" cy="51.2" r="1.1"/>
<circle cx="274.6" cy="63.2" r="1.1"/>
<circle cx="278.9" cy="61.6" r="1.1"/>
<circle cx="270.3" cy="63.1" r="1.1"/>
<circle cx="244.8" cy="81.2" r="1.1"/>
<circle cx="273.1" cy="64.1" r="1.1"/>
<circle cx="281.3" cy="58.7" r="1.1"/>
<circle cx="224.0" cy="95.1" r="1.1"/>
<circle cx="279.4" cy="61.0" r="1.1"/>
<circle cx="249.6" cy="77.1" r="1.1"/>
<circle cx="219.6" cy="94.8" r="1.1"/>
<circle cx="240.0" cy="86.1" r="1.1"/>
<circle cx="273.4" cy="63.5" r="1.1"/>
<circle cx="235.0" cy="89.8" r="1.1"/>
<circle cx="245.9" cy="78.7" r="1.1"/>
<circle cx="308.0" cy="39.6" r="1.1"/>
<circle cx="272.2" cy="60.9" r="1.1"/>
<circle cx="226.3" cy="95.0" r="1.1"/>
<circle cx="289.7" cy="54.4" r="1.1"/>
<circle cx="255.4" cy="76.1" r="1.1"/>
<circle cx="298.6" cy="47.9" r="1.1"/>
<circle cx="221.3" cy="96.8" r="1.1"/>
<circle cx="258.2" cy="74.0" r="1.1"/>
<circle cx="261.1" cy="73.3" r="1.1"/>
<circle cx="240.7" cy="82.9" r="1.1"/>
<circle cx="235.1" cy="89.7" r="1.1"/>
<circle cx="227.4" cy="88.8" r="1.1"/>
<circle cx="292.7" cy="51.3" r="1.1"/>
<circle cx="238.2" cy="87.2" r="1.1"/>
<circle cx="294.3" cy="46.3" r="1.1"/>
<circle cx="302.7" cy="43.3" r="1.1"/>
<circle cx="223.8" cy="90.7" r="1.1"/>
<circle cx="226.7" cy="92.3" r="1.1"/>
<circle cx="240.5" cy="86.7" r="1.1"/>
<circle cx="269.1" cy="67.6" r="1.1"/>
<circle cx="294.9" cy="50.5" r="1.1"/>
<circle cx="270.1" cy="66.3" r="1.1"/>
<circle cx="220.6" cy="97.8" r="1.1"/>
<circle cx="236.6" cy="86.0" r="1.1"/>
<circle cx="281.4" cy="54.2" r="1.1"/>
<circle cx="226.6" cy="94.7" r="1.1"/>
<circle cx="241.9" cy="85.1" r="1.1"/>
<circle cx="229.2" cy="90.7" r="1.1"/>
<circle cx="219.4" cy="97.5" r="1.1"/>
<circle cx="224.7" cy="95.5" r="1.1"/>
<circle cx="235.3" cy="88.7" r="1.1"/>
<circle cx="301.1" cy="45.6" r="1.1"/>
<circle cx="228.0" cy="92.2" r="1.1"/>
<circle cx="281.3" cy="57.3" r="1.1"/>
<circle cx="253.9" cy="75.5" r="1.1"/>
<circle cx="238.5" cy="81.7" r="1.1"/>
<circle cx="278.0" cy="58.9" r="1.1"/>
<circle cx="257.0" cy="70.8" r="1.1"/>
<circle cx="250.3" cy="74.1" r="1.1"/>
<circle cx="248.0" cy="75.6" r="1.1"/>
<circle cx="237.3" cy="87.2" r="1.1"/>
<circle cx="259.0" cy="73.1" r="1.1"/>
<circle cx="289.7" cy="50.5" r="1.1"/>
<circle cx="227.6" cy="92.0" r="1.1"/>
<circle cx="255.7" cy="75.9" r="1.1"/>
<circle cx="223.7" cy="91.7" r="1.1"/>
<circle cx="307.2" cy="40.9" r="1.1"/>
<circle cx="222.1" cy="96.9" r="1.1"/>
<circle cx="238.2" cy="88.0" r="1.1"/>
<circle cx="242.0" cy="84.9" r="1.1"/>
<circle cx="245.3" cy="83.6" r="1.1"/>
<circle cx="224.6" cy="89.9" r="1.1"/>
<circle cx="258.5" cy="74.6" r="1.1"/>
<circle cx="248.5" cy="80.7" r="1.1"/>
<circle cx="251.8" cy="79.1" r="1.1"/>
<circle cx="278.4" cy="56.2" r="1.1"/>
<circle cx="265.9" cy="63.5" r="1.1"/>
<circle cx="286.4" cy="55.0" r="1.1"/>
<circle cx="255.3" cy="74.8" r="1.1"/>
<circle cx="241.3" cy="86.1" r="1.1"/>
<circle cx="248.7" cy="77.9" r="1.1"/>
<circle cx="270.8" cy="67.0" r="1.1"/>
<circle cx="287.7" cy="55.7" r="1.1"/>
<circle cx="255.0" cy="77.1" r="1.1"/>
<circle cx="235.9" cy="89.1" r="1.1"/>
<circle cx="264.6" cy="68.5" r="1.1"/>
<circle cx="294.5" cy="49.7" r="1.1"/>
<circle cx="221.1" cy="98.2" r="1.1"/>
<circle cx="222.2" cy="97.3" r="1.1"/>
<circle cx="227.2" cy="94.1" r="1.1"/>
<circle cx="225.7" cy="91.7" r="1.1"/>
<circle cx="240.7" cy="85.3" r="1.1"/>
<circle cx="282.9" cy="58.6" r="1.1"/>
<circle cx="253.3" cy="78.5" r="1.1"/>
<circle cx="251.8" cy="74.0" r="1.1"/>
<circle cx="259.7" cy="73.6" r="1.1"/>
<circle cx="266.5" cy="68.5" r="1.1"/>
<circle cx="253.0" cy="76.6" r="1.1"/>
<circle cx="274.8" cy="59.7" r="1.1"/>
<circle cx="305.7" cy="40.1" r="1.1"/>
<circle cx="271.7" cy="63.1" r="1.1"/>
<circle cx="228.4" cy="93.7" r="1.1"/>
<circle cx="289.6" cy="53.3" r="1.1"/>
<circle cx="219.8" cy="96.1" r="1.1"/>
<circle cx="224.7" cy="95.6" r="1.1"/>
<circle cx="287.7" cy="55.1" r="1.1"/>
<circle cx="284.0" cy="57.3" r="1.1"/>
<circle cx="259.2" cy="72.3" r="1.1"/>
<circle cx="275.5" cy="63.4" r="1.1"/>
<circle cx="270.4" cy="66.9" r="1.1"/>
<circle cx="231.8" cy="88.9" r="1.1"/>
<circle cx="225.8" cy="94.5" r="1.1"/>
<circle cx="223.6" cy="95.0" r="1.1"/>
<circle cx="227.2" cy="93.9" r="1.1"/>
<circle cx="253.3" cy="78.5" r="1.1"/>
<circle cx="233.1" cy="91.1" r="1.1"/>
<circle cx="265.1" cy="70.5" r="1.1"/>
<circle cx="227.3" cy="94.5" r="1.1"/>
<circle cx="278.0" cy="60.0" r="1.1"/>
<circle cx="235.3" cy="89.2" r="1.1"/>
<circle cx="234.1" cy="89.0" r="1.1"/>
<circle cx="260.0" cy="73.9" r="1.1"/>
<circle cx="225.8" cy="93.5" r="1.1"/>
<circle cx="234.4" cy="88.2" r="1.1"/>
<circle cx="227.2" cy="94.6" r="1.1"/>
<circle cx="221.5" cy="93.9" r="1.1"/>
<circle cx="256.7" cy="76.3" r="1.1"/>
<circle cx="240.4" cy="84.7" r="1.1"/>
<circle cx="230.0" cy="89.4" r="1.1"/>
<circle cx="219.4" cy="97.6" r="1.1"/>
<circle cx="260.5" cy="73.4" r="1.1"/>
<circle cx="307.0" cy="42.5" r="1.1"/>
<circle cx="279.6" cy="61.1" r="1.1"/>
<circle cx="271.6" cy="62.7" r="1.1"/>
<circle cx="267.0" cy="69.5" r="1.1"/>
<circle cx="221.3" cy="94.4" r="1.1"/>
<circle cx="290.1" cy="53.5" r="1.1"/>
<circle cx="299.8" cy="47.4" r="1.1"/>
<circle cx="294.6" cy="51.1" r="1.1"/>
<circle cx="237.8" cy="87.9" r="1.1"/>
<circle cx="229.4" cy="92.1" r="1.1"/>
<circle cx="220.6" cy="91.4" r="1.1"/>
<circle cx="229.4" cy="91.1" r="1.1"/>
<circle cx="240.0" cy="81.8" r="1.1"/>
<circle cx="259.1" cy="73.4" r="1.1"/>
<circle cx="280.2" cy="59.0" r="1.1"/>
<circle cx="248.6" cy="81.2" r="1.1"/>
<circle cx="284.6" cy="55.7" r="1.1"/>
<circle cx="249.8" cy="71.4" r="1.1"/>
<circle cx="249.9" cy="77.9" r="1.1"/>
<circle cx="226.5" cy="94.3" r="1.1"/>
<circle cx="266.2" cy="69.5" r="1.1"/>
<circle cx="308.2" cy="39.8" r="1.1"/>
<circle cx="275.6" cy="63.2" r="1.1"/>
<circle cx="281.5" cy="55.7" r="1.1"/>
<circle cx="249.4" cy="79.3" r="1.1"/>
<circle cx="268.7" cy="67.9" r="1.1"/>
<circle cx="220.6" cy="98.1" r="1.1"/>
<circle cx="255.6" cy="74.9" r="1.1"/>
<circle cx="291.1" cy="52.8" r="1.1"/>
<circle cx="226.7" cy="94.0" r="1.1"/>
<circle cx="226.4" cy="94.6" r="1.1"/>
<circle cx="252.2" cy="76.9" r="1.1"/>
<circle cx="223.2" cy="96.7" r="1.1"/>
<circle cx="250.5" cy="78.8" r="1.1"/>
<circle cx="227.2" cy="92.5" r="1.1"/>
<circle cx="259.5" cy="67.6" r="1.1"/>
<circle cx="302.9" cy="45.4" r="1.1"/>
<circle cx="255.3" cy="76.6" r="1.1"/>
<circle cx="234.3" cy="90.4" r="1.1"/>
<circle cx="272.6" cy="63.6" r="1.1"/>
<circle cx="234.0" cy="90.2" r="1.1"/>
<circle cx="307.7" cy="39.8" r="1.1"/>
<circle cx="231.9" cy="86.0" r="1.1"/>
<circle cx="275.6" cy="62.4" r="1.1"/>
<circle cx="223.5" cy="95.7" r="1.1"/>
<circle cx="219.9" cy="98.4" r="1.1"/>
<circle cx="282.6" cy="58.9" r="1.1"/>
<circle cx="229.1" cy="92.8" r="1.1"/>
<circle cx="245.5" cy="82.0" r="1.1"/>
<circle cx="220.6" cy="96.8" r="1.1"/>
<circle cx="221.5" cy="97.2" r="1.1"/>
<circle cx="237.7" cy="76.1" r="1.1"/>
<circle cx="247.5" cy="81.6" r="1.1"/>
<circle cx="226.2" cy="93.0" r="1.1"/>
<circle cx="225.9" cy="90.7" r="1.1"/>
<circle cx="244.6" cy="81.7" r="1.1"/>
<circle cx="251.8" cy="75.1" r="1.1"/>
<circle cx="220.6" cy="81.5" r="1.1"/>
<circle cx="219.0" cy="77.2" r="1.1"/>
<circle cx="223.7" cy="84.0" r="1.1"/>
<circle cx="221.7" cy="84.9" r="1.1"/>
<circle cx="219.5" cy="94.0" r="1.1"/>
<circle cx="227.2" cy="86.9" r="1.1"/>
<circle cx="234.8" cy="82.5" r="1.1"/>
<circle cx="222.4" cy="81.0" r="1.1"/>
<circle cx="249.2" cy="78.3" r="1.1"/>
<circle cx="218.8" cy="98.0" r="1.1"/>
<circle cx="228.9" cy="93.0" r="1.1"/>
<circle cx="222.7" cy="92.1" r="1.1"/>
<circle cx="238.2" cy="83.4" r="1.1"/>
<circle cx="230.4" cy="79.5" r="1.1"/>
<circle cx="223.9" cy="81.2" r="1.1"/>
<circle cx="234.9" cy="88.6" r="1.1"/>
<circle cx="246.5" cy="80.8" r="1.1"/>
<circle cx="236.6" cy="74.4" r="1.1"/>
<circle cx="222.1" cy="96.3" r="1.1"/>
<circle cx="238.0" cy="79.6" r="1.1"/>
<circle cx="222.7" cy="93.3" r="1.1"/>
<circle cx="223.3" cy="95.8" r="1.1"/>
<circle cx="223.0" cy="95.6" r="1.1"/>
<circle cx="250.8" cy="78.3" r="1.1"/>
<circle cx="238.7" cy="62.3" r="1.1"/>
<circle cx="230.3" cy="74.7" r="1.1"/>
<circle cx="224.8" cy="91.0" r="1.1"/>
<circle cx="227.9" cy="81.0" r="1.1"/>
<circle cx="227.8" cy="84.2" r="1.1"/>
<circle cx="239.5" cy="83.6" r="1.1"/>
<circle cx="223.0" cy="92.3" r="1.1"/>
<circle cx="255.3" cy="74.7" r="1.1"/>
<circle cx="221.3" cy="94.8" r="1.1"/>
<circle cx="232.2" cy="84.8" r="1.1"/>
<circle cx="250.8" cy="78.8" r="1.1"/>
<circle cx="229.6" cy="90.4" r="1.1"/>
<circle cx="223.2" cy="88.2" r="1.1"/>
<circle cx="224.6" cy="94.4" r="1.1"/>
<circle cx="220.6" cy="91.3" r="1.1"/>
<circle cx="218.8" cy="98.2" r="1.1"/>
<circle cx="225.3" cy="89.3" r="1.1"/>
<circle cx="238.6" cy="79.3" r="1.1"/>
<circle cx="220.5" cy="94.2" r="1.1"/>
<circle cx="229.9" cy="91.6" r="1.1"/>
<circle cx="233.5" cy="83.2" r="1.1"/>
<circle cx="230.3" cy="78.7" r="1.1"/>
<circle cx="224.7" cy="95.1" r="1.1"/>
<circle cx="224.3" cy="89.2" r="1.1"/>
<circle cx="240.1" cy="84.4" r="1.1"/>
<circle cx="226.7" cy="91.0" r="1.1"/>
<circle cx="230.8" cy="87.9" r="1.1"/>
<circle cx="221.7" cy="89.0" r="1.1"/>
<circle cx="266.1" cy="61.8" r="1.1"/>
<circle cx="228.9" cy="76.7" r="1.1"/>
<circle cx="221.8" cy="96.5" r="1.1"/>
<circle cx="247.2" cy="68.2" r="1.1"/>
<circle cx="223.2" cy="84.0" r="1.1"/>
<circle cx="231.8" cy="78.3" r="1.1"/>
<circle cx="229.6" cy="70.6" r="1.1"/>
<circle cx="227.0" cy="89.0" r="1.1"/>
<circle cx="263.0" cy="69.6" r="1.1"/>
<circle cx="227.0" cy="84.1" r="1.1"/>
<circle cx="236.5" cy="83.4" r="1.1"/>
<circle cx="229.8" cy="81.5" r="1.1"/>
<circle cx="234.5" cy="88.1" r="1.1"/>
<circle cx="223.2" cy="88.4" r="1.1"/>
<circle cx="243.9" cy="81.9" r="1.1"/>
<circle cx="227.8" cy="93.7" r="1.1"/>
<circle cx="226.8" cy="87.6" r="1.1"/>
<circle cx="231.6" cy="90.3" r="1.1"/>
<circle cx="224.2" cy="89.4" r="1.1"/>
<circle cx="224.2" cy="90.4" r="1.1"/>
<circle cx="220.4" cy="88.8" r="1.1"/>
<circle cx="224.4" cy="79.3" r="1.1"/>
<circle cx="229.9" cy="83.5" r="1.1"/>
<circle cx="241.0" cy="64.1" r="1.1"/>
<circle cx="221.6" cy="97.0" r="1.1"/>
<circle cx="221.8" cy="95.7" r="1.1"/>
<circle cx="222.5" cy="79.0" r="1.1"/>
<circle cx="244.6" cy="79.0" r="1.1"/>
<circle cx="241.4" cy="85.0" r="1.1"/>
<circle cx="229.3" cy="87.4" r="1.1"/>
<circle cx="226.0" cy="84.6" r="1.1"/>
<circle cx="225.6" cy="88.4" r="1.1"/>
<circle cx="223.9" cy="91.9" r="1.1"/>
<circle cx="230.9" cy="85.2" r="1.1"/>
<circle cx="236.7" cy="86.4" r="1.1"/>
<circle cx="219.3" cy="92.2" r="1.1"/>
<circle cx="223.6" cy="95.4" r="1.1"/>
<circle cx="225.2" cy="86.5" r="1.1"/>
<circle cx="227.5" cy="88.4" r="1.1"/>
<circle cx="237.9" cy="79.5" r="1.1"/>
<circle cx="219.9" cy="98.1" r="1.1"/>
<circle cx="236.5" cy="80.5" r="1.1"/>
<circle cx="236.5" cy="79.4" r="1.1"/>
<circle cx="231.8" cy="90.0" r="1.1"/>
<circle cx="229.6" cy="92.1" r="1.1"/>
<circle cx="232.4" cy="90.4" r="1.1"/>
<circle cx="240.4" cy="72.3" r="1.1"/>
<circle cx="233.6" cy="85.9" r="1.1"/>
<circle cx="233.8" cy="78.1" r="1.1"/>
<circle cx="231.8" cy="85.6" r="1.1"/>
<circle cx="238.9" cy="76.1" r="1.1"/>
<circle cx="238.9" cy="87.1" r="1.1"/>
<circle cx="221.8" cy="89.5" r="1.1"/>
<circle cx="220.8" cy="81.9" r="1.1"/>
<circle cx="228.8" cy="89.3" r="1.1"/>
<circle cx="230.0" cy="91.3" r="1.1"/>
<circle cx="232.9" cy="89.5" r="1.1"/>
<circle cx="224.1" cy="92.3" r="1.1"/>
<circle cx="243.5" cy="83.6" r="1.1"/>
<circle cx="222.9" cy="95.1" r="1.1"/>
<circle cx="233.9" cy="89.2" r="1.1"/>
<circle cx="220.3" cy="86.2" r="1.1"/>
<circle cx="248.4" cy="80.1" r="1.1"/>
<circle cx="225.8" cy="78.9" r="1.1"/>
<circle cx="236.6" cy="83.4" r="1.1"/>
<circle cx="221.8" cy="76.5" r="1.1"/>
<circle cx="219.4" cy="89.6" r="1.1"/>
<circle cx="224.2" cy="95.6" r="1.1"/>
<circle cx="236.7" cy="86.1" r="1.1"/>
<circle cx="221.4" cy="94.7" r="1.1"/>
<circle cx="232.1" cy="84.6" r="1.1"/>
<circle cx="226.4" cy="92.5" r="1.1"/>
<circle cx="225.4" cy="94.5" r="1.1"/>
<circle cx="230.1" cy="89.5" r="1.1"/>
<circle cx="222.8" cy="96.3" r="1.1"/>
<circle cx="218.7" cy="93.1" r="1.1"/>
<circle cx="224.6" cy="90.2" r="1.1"/>
<circle cx="234.1" cy="80.8" r="1.1"/>
<circle cx="238.0" cy="87.1" r="1.1"/>
<circle cx="249.8" cy="79.9" r="1.1"/>
<circle cx="241.1" cy="67.6" r="1.1"/>
<circle cx="228.2" cy="73.4" r="1.1"/>
<circle cx="228.9" cy="81.5" r="1.1"/>
<circle cx="238.5" cy="82.0" r="1.1"/>
<circle cx="223.7" cy="93.1" r="1.1"/>
<circle cx="223.8" cy="78.8" r="1.1"/>
<circle cx="236.8" cy="87.6" r="1.1"/>
<circle cx="236.9" cy="81.2" r="1.1"/>
<circle cx="239.2" cy="86.7" r="1.1"/>
<circle cx="245.4" cy="82.0" r="1.1"/>
<circle cx="247.7" cy="80.6" r="1.1"/>
<circle cx="256.6" cy="74.8" r="1.1"/>
<circle cx="267.9" cy="68.0" r="1.1"/>
<circle cx="222.8" cy="94.6" r="1.1"/>
<circle cx="226.6" cy="77.9" r="1.1"/>
<circle cx="227.8" cy="83.1" r="1.1"/>
<circle cx="226.5" cy="92.6" r="1.1"/>
<circle cx="234.2" cy="88.1" r="1.1"/>
<circle cx="241.1" cy="80.5" r="1.1"/>
<circle cx="231.2" cy="91.7" r="1.1"/>
<circle cx="231.6" cy="74.0" r="1.1"/>
<circle cx="222.6" cy="91.0" r="1.1"/>
<circle cx="220.1" cy="90.3" r="1.1"/>
<circle cx="234.7" cy="83.1" r="1.1"/>
<circle cx="221.2" cy="82.8" r="1.1"/>
<circle cx="224.0" cy="85.3" r="1.1"/>
<circle cx="258.0" cy="74.8" r="1.1"/>
<circle cx="222.6" cy="88.7" r="1.1"/>
<circle cx="234.7" cy="79.3" r="1.1"/>
<circle cx="221.1" cy="81.1" r="1.1"/>
<circle cx="244.2" cy="78.0" r="1.1"/>
<circle cx="231.7" cy="84.2" r="1.1"/>
<circle cx="228.9" cy="80.6" r="1.1"/>
<circle cx="235.7" cy="70.4" r="1.1"/>
<circle cx="230.5" cy="79.2" r="1.1"/>
<circle cx="226.4" cy="90.0" r="1.1"/>
<circle cx="227.4" cy="83.3" r="1.1"/>
<circle cx="219.4" cy="97.0" r="1.1"/>
<circle cx="230.3" cy="91.6" r="1.1"/>
<circle cx="232.9" cy="87.4" r="1.1"/>
<circle cx="231.6" cy="90.2" r="1.1"/>
<circle cx="224.6" cy="85.5" r="1.1"/>
<circle cx="231.7" cy="77.0" r="1.1"/>
<circle cx="242.0" cy="80.5" r="1.1"/>
<circle cx="220.9" cy="76.3" r="1.1"/>
<circle cx="225.7" cy="94.7" r="1.1"/>
<circle cx="222.4" cy="86.1" r="1.1"/>
<circle cx="245.2" cy="73.7" r="1.1"/>
<circle cx="223.2" cy="95.9" r="1.1"/>
<circle cx="229.5" cy="92.6" r="1.1"/>
<circle cx="226.5" cy="81.9" r="1.1"/>
<circle cx="242.6" cy="39.4" r="1.1"/>
<circle cx="245.0" cy="42.1" r="1.1"/>
<circle cx="247.0" cy="43.6" r="1.1"/>
<circle cx="244.1" cy="44.5" r="1.1"/>
<circle cx="245.0" cy="47.0" r="1.1"/>
<circle cx="246.5" cy="47.2" r="1.1"/>
<circle cx="253.7" cy="37.3" r="1.1"/>
<circle cx="230.5" cy="51.8" r="1.1"/>
<circle cx="233.9" cy="53.2" r="1.1"/>
<circle cx="233.4" cy="53.7" r="1.1"/>
<circle cx="243.6" cy="53.2" r="1.1"/>
<circle cx="244.5" cy="54.7" r="1.1"/>
<circle cx="246.0" cy="55.7" r="1.1"/>
<circle cx="235.8" cy="56.3" r="1.1"/>
<circle cx="227.1" cy="57.6" r="1.1"/>
<circle cx="223.7" cy="59.1" r="1.1"/>
<circle cx="239.2" cy="61.2" r="1.1"/>
<circle cx="244.5" cy="61.2" r="1.1"/>
<circle cx="244.5" cy="64.4" r="1.1"/>
<circle cx="233.9" cy="64.9" r="1.1"/>
<circle cx="229.5" cy="67.3" r="1.1"/>
<circle cx="224.7" cy="68.3" r="1.1"/>
<circle cx="236.8" cy="67.8" r="1.1"/>
<circle cx="251.3" cy="63.9" r="1.1"/>
<circle cx="253.7" cy="62.9" r="1.1"/>
<circle cx="254.2" cy="51.8" r="1.1"/>
<circle cx="253.7" cy="58.1" r="1.1"/>
<circle cx="252.3" cy="66.3" r="1.1"/>
<circle cx="273.3" cy="23.7" r="1.1"/>
<circle cx="278.9" cy="27.4" r="1.1"/>
<circle cx="258.9" cy="34.9" r="1.1"/>
<circle cx="254.1" cy="37.5" r="1.1"/>
<circle cx="288.0" cy="34.9" r="1.1"/>
<circle cx="297.2" cy="31.0" r="1.1"/>
<circle cx="279.6" cy="43.1" r="1.1"/>
<circle cx="254.8" cy="51.6" r="1.1"/>
<circle cx="292.6" cy="47.0" r="1.1"/>
<circle cx="295.5" cy="48.9" r="1.1"/>
<circle cx="220.4" cy="77.7" r="1.1"/>
<circle cx="228.1" cy="73.8" r="1.1"/>
<circle cx="238.1" cy="73.1" r="1.1"/>
<circle cx="249.6" cy="67.7" r="1.1"/>
<circle cx="251.2" cy="64.6" r="1.1"/>
<circle cx="242.7" cy="69.2" r="1.1"/>
<circle cx="245.8" cy="70.8" r="1.1"/>
<circle cx="222.7" cy="70.8" r="1.1"/>
<circle cx="225.0" cy="68.5" r="1.1"/>
<circle cx="238.1" cy="66.2" r="1.1"/>
<circle cx="234.2" cy="65.4" r="1.1"/>
<circle cx="255.0" cy="51.5" r="1.1"/>
<circle cx="254.2" cy="56.9" r="1.1"/>
<circle cx="262.0" cy="47.5" r="1.1"/>
<circle cx="266.0" cy="45.0" r="1.1"/>
<circle cx="270.0" cy="41.5" r="1.1"/>
<circle cx="306.9" cy="37.1" r="1.1"/>
<circle cx="310.4" cy="34.2" r="1.1"/>
<circle cx="311.5" cy="36.0" r="1.1"/>
<circle cx="327.1" cy="23.8" r="1.1"/>
<circle cx="328.5" cy="24.5" r="1.1"/>
<circle cx="315.0" cy="33.0" r="1.1"/>
<circle cx="303.0" cy="38.5" r="1.1"/>
<circle cx="300.0" cy="40.5" r="1.1"/>
</g>
<g fill="#ee1822">
<circle cx="342.1" cy="41.2" r="1.1"/>
<circle cx="344.4" cy="42.3" r="1.1"/>
<circle cx="346.7" cy="43.5" r="1.1"/>
<circle cx="349.0" cy="42.7" r="1.1"/>
<circle cx="328.8" cy="47.5" r="1.1"/>
<circle cx="316.0" cy="53.5" r="1.1"/>
<circle cx="318.5" cy="55.0" r="1.1"/>
<circle cx="321.0" cy="57.0" r="1.1"/>
<circle cx="324.0" cy="59.5" r="1.1"/>
<circle cx="317.0" cy="60.0" r="1.1"/>
<circle cx="326.5" cy="54.0" r="1.1"/>
<circle cx="313.0" cy="57.5" r="1.1"/>
<circle cx="319.5" cy="61.5" r="1.1"/>
<circle cx="331.0" cy="50.5" r="1.1"/>
<circle cx="256.4" cy="98.0" r="1.1"/>
<circle cx="259.5" cy="97.2" r="1.1"/>
<circle cx="243.1" cy="106.4" r="1.1"/>
<circle cx="255.1" cy="97.9" r="1.1"/>
<circle cx="263.4" cy="102.8" r="1.1"/>
<circle cx="242.6" cy="112.6" r="1.1"/>
<circle cx="241.6" cy="106.6" r="1.1"/>
<circle cx="283.4" cy="81.7" r="1.1"/>
<circle cx="239.5" cy="112.3" r="1.1"/>
<circle cx="284.7" cy="81.8" r="1.1"/>
<circle cx="302.6" cy="69.2" r="1.1"/>
<circle cx="291.9" cy="74.6" r="1.1"/>
<circle cx="251.7" cy="100.8" r="1.1"/>
<circle cx="241.8" cy="108.0" r="1.1"/>
<circle cx="307.3" cy="71.3" r="1.1"/>
<circle cx="253.2" cy="101.0" r="1.1"/>
<circle cx="290.2" cy="86.8" r="1.1"/>
<circle cx="249.5" cy="106.7" r="1.1"/>
<circle cx="256.8" cy="98.7" r="1.1"/>
<circle cx="282.7" cy="79.3" r="1.1"/>
<circle cx="254.4" cy="98.3" r="1.1"/>
<circle cx="259.8" cy="97.9" r="1.1"/>
<circle cx="284.4" cy="78.6" r="1.1"/>
<circle cx="235.0" cy="111.7" r="1.1"/>
<circle cx="281.0" cy="82.7" r="1.1"/>
<circle cx="271.5" cy="87.1" r="1.1"/>
<circle cx="249.2" cy="106.3" r="1.1"/>
<circle cx="260.8" cy="95.0" r="1.1"/>
<circle cx="242.7" cy="109.3" r="1.1"/>
<circle cx="277.1" cy="85.7" r="1.1"/>
<circle cx="270.5" cy="95.5" r="1.1"/>
<circle cx="269.0" cy="89.1" r="1.1"/>
<circle cx="288.3" cy="96.7" r="1.1"/>
<circle cx="247.5" cy="108.0" r="1.1"/>
<circle cx="256.1" cy="111.8" r="1.1"/>
<circle cx="248.6" cy="104.8" r="1.1"/>
<circle cx="250.7" cy="101.0" r="1.1"/>
<circle cx="249.7" cy="102.8" r="1.1"/>
<circle cx="240.6" cy="111.9" r="1.1"/>
<circle cx="264.7" cy="91.6" r="1.1"/>
<circle cx="248.1" cy="108.7" r="1.1"/>
<circle cx="281.4" cy="84.4" r="1.1"/>
<circle cx="267.9" cy="92.2" r="1.1"/>
<circle cx="266.8" cy="112.5" r="1.1"/>
<circle cx="251.7" cy="105.5" r="1.1"/>
<circle cx="270.3" cy="88.7" r="1.1"/>
<circle cx="249.6" cy="103.4" r="1.1"/>
<circle cx="262.1" cy="103.5" r="1.1"/>
<circle cx="244.8" cy="105.3" r="1.1"/>
<circle cx="276.9" cy="84.2" r="1.1"/>
<circle cx="254.2" cy="107.9" r="1.1"/>
<circle cx="256.2" cy="99.4" r="1.1"/>
<circle cx="282.7" cy="79.1" r="1.1"/>
<circle cx="252.9" cy="101.6" r="1.1"/>
<circle cx="245.3" cy="107.3" r="1.1"/>
<circle cx="280.9" cy="85.0" r="1.1"/>
<circle cx="254.4" cy="103.9" r="1.1"/>
<circle cx="241.8" cy="107.6" r="1.1"/>
<circle cx="260.8" cy="97.9" r="1.1"/>
<circle cx="268.1" cy="91.6" r="1.1"/>
<circle cx="258.1" cy="98.3" r="1.1"/>
<circle cx="255.8" cy="104.8" r="1.1"/>
<circle cx="275.6" cy="86.3" r="1.1"/>
<circle cx="256.7" cy="97.2" r="1.1"/>
<circle cx="262.2" cy="100.9" r="1.1"/>
<circle cx="244.9" cy="104.8" r="1.1"/>
<circle cx="277.6" cy="83.7" r="1.1"/>
<circle cx="246.2" cy="112.2" r="1.1"/>
<circle cx="237.8" cy="111.8" r="1.1"/>
<circle cx="273.2" cy="109.4" r="1.1"/>
<circle cx="238.0" cy="109.0" r="1.1"/>
<circle cx="310.8" cy="63.1" r="1.1"/>
<circle cx="238.7" cy="109.0" r="1.1"/>
<circle cx="248.0" cy="108.1" r="1.1"/>
<circle cx="294.3" cy="73.3" r="1.1"/>
<circle cx="248.3" cy="105.7" r="1.1"/>
<circle cx="270.2" cy="89.3" r="1.1"/>
<circle cx="255.3" cy="101.3" r="1.1"/>
<circle cx="268.2" cy="89.5" r="1.1"/>
<circle cx="251.9" cy="101.2" r="1.1"/>
<circle cx="248.6" cy="112.5" r="1.1"/>
<circle cx="254.3" cy="100.4" r="1.1"/>
<circle cx="242.9" cy="106.5" r="1.1"/>
<circle cx="275.6" cy="104.7" r="1.1"/>
<circle cx="245.4" cy="106.5" r="1.1"/>
<circle cx="252.7" cy="110.1" r="1.1"/>
<circle cx="270.4" cy="89.1" r="1.1"/>
<circle cx="255.3" cy="101.2" r="1.1"/>
<circle cx="296.3" cy="72.4" r="1.1"/>
<circle cx="244.6" cy="108.2" r="1.1"/>
<circle cx="245.3" cy="110.2" r="1.1"/>
<circle cx="264.8" cy="94.2" r="1.1"/>
<circle cx="259.5" cy="102.1" r="1.1"/>
<circle cx="267.9" cy="97.2" r="1.1"/>
<circle cx="252.6" cy="104.2" r="1.1"/>
<circle cx="283.9" cy="80.4" r="1.1"/>
<circle cx="263.8" cy="99.4" r="1.1"/>
<circle cx="260.1" cy="100.6" r="1.1"/>
<circle cx="256.6" cy="101.7" r="1.1"/>
<circle cx="243.5" cy="111.7" r="1.1"/>
<circle cx="251.7" cy="100.8" r="1.1"/>
<circle cx="257.8" cy="97.0" r="1.1"/>
<circle cx="309.7" cy="63.5" r="1.1"/>
<circle cx="259.1" cy="95.9" r="1.1"/>
<circle cx="241.8" cy="107.7" r="1.1"/>
<circle cx="247.2" cy="105.9" r="1.1"/>
<circle cx="246.8" cy="103.6" r="1.1"/>
<circle cx="266.3" cy="90.6" r="1.1"/>
<circle cx="239.7" cy="109.3" r="1.1"/>
<circle cx="268.6" cy="96.5" r="1.1"/>
<circle cx="247.4" cy="105.8" r="1.1"/>
<circle cx="263.5" cy="95.2" r="1.1"/>
<circle cx="242.0" cy="110.6" r="1.1"/>
<circle cx="243.5" cy="109.3" r="1.1"/>
<circle cx="243.5" cy="105.9" r="1.1"/>
<circle cx="289.7" cy="86.8" r="1.1"/>
<circle cx="248.5" cy="107.7" r="1.1"/>
<circle cx="255.4" cy="107.7" r="1.1"/>
<circle cx="260.6" cy="97.1" r="1.1"/>
<circle cx="259.7" cy="95.6" r="1.1"/>
<circle cx="244.2" cy="109.5" r="1.1"/>
<circle cx="311.3" cy="63.0" r="1.1"/>
<circle cx="262.8" cy="96.8" r="1.1"/>
<circle cx="257.8" cy="96.5" r="1.1"/>
<circle cx="257.2" cy="111.5" r="1.1"/>
<circle cx="249.7" cy="109.5" r="1.1"/>
<circle cx="252.9" cy="100.5" r="1.1"/>
<circle cx="251.4" cy="101.0" r="1.1"/>
<circle cx="283.3" cy="89.9" r="1.1"/>
<circle cx="245.4" cy="105.4" r="1.1"/>
<circle cx="273.6" cy="85.6" r="1.1"/>
<circle cx="253.4" cy="110.7" r="1.1"/>
<circle cx="298.5" cy="73.5" r="1.1"/>
<circle cx="243.8" cy="108.6" r="1.1"/>
<circle cx="239.4" cy="108.9" r="1.1"/>
<circle cx="273.0" cy="92.1" r="1.1"/>
<circle cx="249.8" cy="108.8" r="1.1"/>
<circle cx="238.1" cy="109.0" r="1.1"/>
<circle cx="245.1" cy="108.3" r="1.1"/>
<circle cx="245.2" cy="108.2" r="1.1"/>
<circle cx="256.1" cy="99.9" r="1.1"/>
<circle cx="286.1" cy="81.2" r="1.1"/>
<circle cx="295.5" cy="73.4" r="1.1"/>
<circle cx="267.2" cy="95.8" r="1.1"/>
<circle cx="275.6" cy="85.3" r="1.1"/>
<circle cx="309.3" cy="73.2" r="1.1"/>
<circle cx="257.8" cy="98.6" r="1.1"/>
<circle cx="309.1" cy="67.6" r="1.1"/>
<circle cx="254.1" cy="99.6" r="1.1"/>
<circle cx="260.3" cy="104.3" r="1.1"/>
<circle cx="248.0" cy="104.7" r="1.1"/>
<circle cx="241.7" cy="110.7" r="1.1"/>
<circle cx="250.4" cy="101.6" r="1.1"/>
<circle cx="279.7" cy="81.1" r="1.1"/>
<circle cx="287.5" cy="76.3" r="1.1"/>
<circle cx="261.5" cy="97.2" r="1.1"/>
<circle cx="267.3" cy="94.0" r="1.1"/>
<circle cx="248.5" cy="102.7" r="1.1"/>
<circle cx="270.3" cy="89.6" r="1.1"/>
<circle cx="259.4" cy="102.3" r="1.1"/>
<circle cx="273.0" cy="86.1" r="1.1"/>
<circle cx="283.1" cy="81.2" r="1.1"/>
<circle cx="271.0" cy="96.9" r="1.1"/>
<circle cx="255.5" cy="100.0" r="1.1"/>
<circle cx="245.6" cy="110.8" r="1.1"/>
<circle cx="252.2" cy="102.5" r="1.1"/>
<circle cx="256.4" cy="97.9" r="1.1"/>
<circle cx="261.8" cy="96.7" r="1.1"/>
<circle cx="273.2" cy="100.6" r="1.1"/>
<circle cx="277.8" cy="85.4" r="1.1"/>
<circle cx="244.3" cy="104.7" r="1.1"/>
<circle cx="259.3" cy="101.1" r="1.1"/>
<circle cx="255.2" cy="98.1" r="1.1"/>
<circle cx="245.0" cy="108.3" r="1.1"/>
<circle cx="252.3" cy="99.8" r="1.1"/>
<circle cx="250.2" cy="100.7" r="1.1"/>
<circle cx="267.9" cy="89.3" r="1.1"/>
<circle cx="255.6" cy="100.9" r="1.1"/>
<circle cx="268.2" cy="90.9" r="1.1"/>
<circle cx="250.0" cy="101.5" r="1.1"/>
<circle cx="272.4" cy="94.0" r="1.1"/>
<circle cx="281.7" cy="84.3" r="1.1"/>
<circle cx="277.4" cy="83.9" r="1.1"/>
<circle cx="243.4" cy="106.2" r="1.1"/>
<circle cx="250.8" cy="103.2" r="1.1"/>
<circle cx="257.6" cy="105.2" r="1.1"/>
<circle cx="254.4" cy="103.7" r="1.1"/>
<circle cx="284.8" cy="80.5" r="1.1"/>
<circle cx="246.9" cy="103.1" r="1.1"/>
<circle cx="258.8" cy="102.9" r="1.1"/>
<circle cx="299.0" cy="72.1" r="1.1"/>
<circle cx="286.6" cy="77.5" r="1.1"/>
<circle cx="264.6" cy="95.1" r="1.1"/>
<circle cx="275.2" cy="86.2" r="1.1"/>
<circle cx="241.3" cy="112.5" r="1.1"/>
<circle cx="277.2" cy="84.7" r="1.1"/>
<circle cx="304.2" cy="80.6" r="1.1"/>
<circle cx="279.1" cy="81.6" r="1.1"/>
<circle cx="271.5" cy="88.4" r="1.1"/>
<circle cx="254.0" cy="99.0" r="1.1"/>
<circle cx="275.2" cy="96.8" r="1.1"/>
<circle cx="244.7" cy="112.3" r="1.1"/>
<circle cx="241.3" cy="108.0" r="1.1"/>
<circle cx="292.1" cy="74.5" r="1.1"/>
<circle cx="251.0" cy="102.1" r="1.1"/>
<circle cx="250.6" cy="102.9" r="1.1"/>
<circle cx="246.9" cy="105.8" r="1.1"/>
<circle cx="272.2" cy="88.2" r="1.1"/>
<circle cx="279.0" cy="94.8" r="1.1"/>
<circle cx="253.5" cy="112.5" r="1.1"/>
<circle cx="269.0" cy="97.6" r="1.1"/>
<circle cx="257.4" cy="101.3" r="1.1"/>
<circle cx="280.5" cy="83.9" r="1.1"/>
<circle cx="266.5" cy="90.6" r="1.1"/>
<circle cx="273.3" cy="88.1" r="1.1"/>
<circle cx="250.1" cy="102.0" r="1.1"/>
<circle cx="245.0" cy="104.9" r="1.1"/>
<circle cx="241.9" cy="108.2" r="1.1"/>
<circle cx="251.0" cy="105.1" r="1.1"/>
<circle cx="275.0" cy="91.3" r="1.1"/>
<circle cx="255.4" cy="104.3" r="1.1"/>
<circle cx="249.3" cy="111.6" r="1.1"/>
<circle cx="250.7" cy="104.2" r="1.1"/>
<circle cx="271.6" cy="89.9" r="1.1"/>
<circle cx="253.4" cy="108.1" r="1.1"/>
<circle cx="240.7" cy="111.4" r="1.1"/>
<circle cx="274.3" cy="86.3" r="1.1"/>
<circle cx="281.2" cy="83.3" r="1.1"/>
<circle cx="295.3" cy="81.1" r="1.1"/>
<circle cx="251.5" cy="100.5" r="1.1"/>
<circle cx="260.5" cy="95.6" r="1.1"/>
<circle cx="261.0" cy="96.9" r="1.1"/>
<circle cx="299.2" cy="68.8" r="1.1"/>
<circle cx="304.2" cy="72.7" r="1.1"/>
<circle cx="234.9" cy="111.8" r="1.1"/>
<circle cx="251.1" cy="109.3" r="1.1"/>
<circle cx="262.4" cy="103.4" r="1.1"/>
<circle cx="254.9" cy="105.5" r="1.1"/>
<circle cx="241.2" cy="110.4" r="1.1"/>
<circle cx="308.1" cy="66.4" r="1.1"/>
<circle cx="256.8" cy="108.7" r="1.1"/>
<circle cx="295.9" cy="70.9" r="1.1"/>
<circle cx="238.6" cy="110.3" r="1.1"/>
<circle cx="301.8" cy="68.3" r="1.1"/>
<circle cx="246.0" cy="107.2" r="1.1"/>
<circle cx="270.9" cy="93.4" r="1.1"/>
<circle cx="271.0" cy="86.8" r="1.1"/>
<circle cx="270.6" cy="88.3" r="1.1"/>
<circle cx="255.4" cy="104.1" r="1.1"/>
<circle cx="290.2" cy="80.6" r="1.1"/>
<circle cx="267.7" cy="91.5" r="1.1"/>
<circle cx="255.6" cy="100.1" r="1.1"/>
<circle cx="279.1" cy="83.0" r="1.1"/>
<circle cx="297.5" cy="77.7" r="1.1"/>
<circle cx="271.6" cy="87.4" r="1.1"/>
<circle cx="279.4" cy="89.4" r="1.1"/>
<circle cx="277.9" cy="83.6" r="1.1"/>
<circle cx="253.4" cy="100.4" r="1.1"/>
<circle cx="270.3" cy="91.8" r="1.1"/>
<circle cx="257.1" cy="96.7" r="1.1"/>
<circle cx="248.8" cy="107.9" r="1.1"/>
<circle cx="278.6" cy="87.7" r="1.1"/>
<circle cx="298.4" cy="76.6" r="1.1"/>
<circle cx="250.7" cy="100.4" r="1.1"/>
<circle cx="259.8" cy="104.9" r="1.1"/>
<circle cx="264.1" cy="92.5" r="1.1"/>
<circle cx="279.0" cy="81.9" r="1.1"/>
<circle cx="258.1" cy="107.9" r="1.1"/>
<circle cx="276.1" cy="93.2" r="1.1"/>
<circle cx="272.2" cy="100.4" r="1.1"/>
<circle cx="280.7" cy="85.5" r="1.1"/>
<circle cx="256.4" cy="97.1" r="1.1"/>
<circle cx="284.0" cy="92.4" r="1.1"/>
<circle cx="259.8" cy="98.8" r="1.1"/>
<circle cx="270.8" cy="90.5" r="1.1"/>
<circle cx="245.3" cy="108.8" r="1.1"/>
<circle cx="263.4" cy="92.1" r="1.1"/>
<circle cx="264.3" cy="101.0" r="1.1"/>
<circle cx="263.4" cy="92.1" r="1.1"/>
<circle cx="268.4" cy="93.8" r="1.1"/>
<circle cx="259.9" cy="94.5" r="1.1"/>
<circle cx="272.2" cy="90.8" r="1.1"/>
<circle cx="248.4" cy="102.4" r="1.1"/>
<circle cx="244.4" cy="109.8" r="1.1"/>
<circle cx="271.8" cy="86.4" r="1.1"/>
<circle cx="311.0" cy="65.6" r="1.1"/>
<circle cx="284.6" cy="77.7" r="1.1"/>
<circle cx="238.6" cy="111.9" r="1.1"/>
<circle cx="242.4" cy="110.8" r="1.1"/>
<circle cx="249.0" cy="105.2" r="1.1"/>
<circle cx="263.7" cy="99.2" r="1.1"/>
<circle cx="243.3" cy="108.5" r="1.1"/>
<circle cx="245.6" cy="107.0" r="1.1"/>
<circle cx="271.9" cy="99.3" r="1.1"/>
<circle cx="247.6" cy="109.7" r="1.1"/>
<circle cx="247.0" cy="106.0" r="1.1"/>
<circle cx="246.6" cy="109.0" r="1.1"/>
<circle cx="239.7" cy="112.8" r="1.1"/>
<circle cx="268.2" cy="100.1" r="1.1"/>
<circle cx="290.3" cy="76.2" r="1.1"/>
<circle cx="283.2" cy="81.0" r="1.1"/>
<circle cx="251.6" cy="101.3" r="1.1"/>
<circle cx="244.9" cy="104.9" r="1.1"/>
<circle cx="272.9" cy="90.8" r="1.1"/>
<circle cx="251.5" cy="104.8" r="1.1"/>
<circle cx="272.1" cy="94.7" r="1.1"/>
<circle cx="240.8" cy="112.0" r="1.1"/>
<circle cx="267.1" cy="89.4" r="1.1"/>
<circle cx="254.2" cy="111.1" r="1.1"/>
<circle cx="238.1" cy="112.5" r="1.1"/>
<circle cx="260.0" cy="100.7" r="1.1"/>
<circle cx="250.6" cy="102.1" r="1.1"/>
<circle cx="268.2" cy="90.3" r="1.1"/>
<circle cx="237.4" cy="109.6" r="1.1"/>
<circle cx="245.8" cy="105.5" r="1.1"/>
<circle cx="241.9" cy="112.3" r="1.1"/>
<circle cx="271.4" cy="94.2" r="1.1"/>
<circle cx="240.2" cy="110.4" r="1.1"/>
<circle cx="287.0" cy="80.2" r="1.1"/>
<circle cx="267.3" cy="95.1" r="1.1"/>
<circle cx="256.1" cy="100.5" r="1.1"/>
<circle cx="250.6" cy="111.5" r="1.1"/>
<circle cx="245.2" cy="107.4" r="1.1"/>
<circle cx="248.9" cy="111.3" r="1.1"/>
<circle cx="276.4" cy="87.6" r="1.1"/>
<circle cx="253.5" cy="103.7" r="1.1"/>
<circle cx="246.5" cy="112.2" r="1.1"/>
<circle cx="256.3" cy="98.3" r="1.1"/>
<circle cx="252.4" cy="108.3" r="1.1"/>
<circle cx="309.8" cy="63.9" r="1.1"/>
<circle cx="282.2" cy="79.4" r="1.1"/>
<circle cx="262.1" cy="99.2" r="1.1"/>
<circle cx="252.2" cy="103.7" r="1.1"/>
<circle cx="252.4" cy="102.3" r="1.1"/>
<circle cx="270.4" cy="89.3" r="1.1"/>
<circle cx="267.2" cy="91.8" r="1.1"/>
<circle cx="261.9" cy="97.2" r="1.1"/>
<circle cx="241.4" cy="110.7" r="1.1"/>
<circle cx="257.7" cy="97.1" r="1.1"/>
<circle cx="236.9" cy="110.4" r="1.1"/>
<circle cx="251.2" cy="105.3" r="1.1"/>
<circle cx="285.1" cy="88.4" r="1.1"/>
<circle cx="258.6" cy="102.8" r="1.1"/>
<circle cx="284.7" cy="83.4" r="1.1"/>
<circle cx="268.6" cy="103.9" r="1.1"/>
<circle cx="293.3" cy="73.9" r="1.1"/>
<circle cx="244.8" cy="107.0" r="1.1"/>
<circle cx="241.5" cy="106.8" r="1.1"/>
<circle cx="266.4" cy="108.3" r="1.1"/>
<circle cx="281.7" cy="82.1" r="1.1"/>
<circle cx="266.8" cy="91.2" r="1.1"/>
<circle cx="288.3" cy="82.1" r="1.1"/>
<circle cx="247.2" cy="102.9" r="1.1"/>
<circle cx="259.9" cy="100.3" r="1.1"/>
<circle cx="234.7" cy="112.9" r="1.1"/>
<circle cx="241.4" cy="107.2" r="1.1"/>
<circle cx="236.0" cy="111.6" r="1.1"/>
</g>
<g fill="#3c3aa0">
<circle cx="253.7" cy="81.3" r="1.2"/>
<circle cx="260.2" cy="80.5" r="1.2"/>
<circle cx="244.4" cy="97.7" r="1.2"/>
<circle cx="272.8" cy="66.7" r="1.2"/>
<circle cx="284.4" cy="56.0" r="1.2"/>
<circle cx="295.4" cy="51.0" r="1.2"/>
<circle cx="331.2" cy="31.3" r="1.2"/>
<circle cx="336.9" cy="27.9" r="1.2"/>
</g>
<g fill="#8884c0">
<circle cx="326.5" cy="33.5" r="1.1"/>
<circle cx="341.0" cy="25.5" r="1.1"/>
<circle cx="322.0" cy="36.0" r="1.1"/>
<circle cx="318.0" cy="38.5" r="1.1"/>
</g>
<g fill="#b4b0b6">
<circle cx="93.7" cy="338.1" r="1.05"/>
<circle cx="97.0" cy="335.4" r="1.05"/>
<circle cx="100.3" cy="334.3" r="1.05"/>
<circle cx="103.5" cy="331.6" r="1.05"/>
<circle cx="106.2" cy="330.5" r="1.05"/>
<circle cx="109.5" cy="329.2" r="1.05"/>
<circle cx="111.7" cy="330.0" r="1.05"/>
<circle cx="112.2" cy="327.8" r="1.05"/>
<circle cx="116.6" cy="324.5" r="1.05"/>
<circle cx="119.9" cy="322.9" r="1.05"/>
<circle cx="122.6" cy="320.7" r="1.05"/>
<circle cx="124.2" cy="319.1" r="1.05"/>
<circle cx="125.8" cy="317.4" r="1.05"/>
<circle cx="128.0" cy="315.8" r="1.05"/>
<circle cx="129.1" cy="314.7" r="1.05"/>
<circle cx="121.0" cy="326.1" r="1.05"/>
<circle cx="141.3" cy="305.8" r="1.05"/>
<circle cx="149.1" cy="304.9" r="1.05"/>
<circle cx="150.0" cy="302.4" r="1.05"/>
<circle cx="152.9" cy="303.9" r="1.05"/>
<circle cx="156.0" cy="303.3" r="1.05"/>
<circle cx="157.2" cy="300.9" r="1.05"/>
<circle cx="158.3" cy="294.7" r="1.05"/>
<circle cx="156.0" cy="294.8" r="1.05"/>
<circle cx="162.7" cy="292.4" r="1.05"/>
<circle cx="165.1" cy="290.0" r="1.05"/>
<circle cx="167.5" cy="288.2" r="1.05"/>
<circle cx="173.0" cy="291.2" r="1.05"/>
<circle cx="178.4" cy="285.1" r="1.05"/>
<circle cx="137.9" cy="314.1" r="1.05"/>
<circle cx="128.7" cy="314.1" r="1.05"/>
<circle cx="125.8" cy="317.0" r="1.05"/>
<circle cx="123.4" cy="318.9" r="1.05"/>
<circle cx="121.5" cy="320.8" r="1.05"/>
<circle cx="178.5" cy="280.9" r="1.05"/>
<circle cx="187.9" cy="280.9" r="1.05"/>
<circle cx="180.3" cy="285.1" r="1.05"/>
<circle cx="202.4" cy="258.8" r="1.05"/>
<circle cx="95.5" cy="337.0" r="1.05"/>
<circle cx="99.0" cy="336.5" r="1.05"/>
<circle cx="102.0" cy="333.0" r="1.05"/>
<circle cx="105.0" cy="332.8" r="1.05"/>
<circle cx="108.0" cy="331.5" r="1.05"/>
<circle cx="114.5" cy="326.0" r="1.05"/>
<circle cx="118.0" cy="325.5" r="1.05"/>
<circle cx="96.0" cy="339.0" r="1.05"/>
<circle cx="104.5" cy="334.8" r="1.05"/>
<circle cx="110.5" cy="326.0" r="1.05"/>
<circle cx="131.5" cy="312.5" r="1.05"/>
<circle cx="134.0" cy="311.0" r="1.05"/>
<circle cx="146.0" cy="306.5" r="1.05"/>
<circle cx="160.5" cy="297.0" r="1.05"/>
<circle cx="170.0" cy="293.0" r="1.05"/>
<circle cx="175.5" cy="289.0" r="1.05"/>
<circle cx="183.5" cy="283.5" r="1.05"/>
<circle cx="144.5" cy="308.0" r="1.05"/>
<circle cx="117.0" cy="322.0" r="1.05"/>
<circle cx="92.0" cy="340.0" r="1.05"/>
<circle cx="100.0" cy="337.5" r="1.05"/>
<circle cx="106.5" cy="335.0" r="1.05"/>
<circle cx="112.0" cy="331.5" r="1.05"/>
</g>
<g fill="#179c6b">
<circle cx="113.9" cy="304.9" r="1.1"/>
<circle cx="124.9" cy="302.3" r="1.1"/>
<circle cx="139.2" cy="296.0" r="1.1"/>
</g>
<g fill="#ee1822">
<circle cx="108.4" cy="337.3" r="1.1"/>
<circle cx="112.8" cy="333.2" r="1.1"/>
<circle cx="115.5" cy="331.6" r="1.1"/>
<circle cx="117.5" cy="330.5" r="1.1"/>
<circle cx="119.9" cy="328.1" r="1.1"/>
<circle cx="122.6" cy="331.0" r="1.1"/>
<circle cx="131.3" cy="326.1" r="1.1"/>
<circle cx="133.5" cy="323.4" r="1.1"/>
<circle cx="135.4" cy="322.8" r="1.1"/>
<circle cx="137.7" cy="324.6" r="1.1"/>
<circle cx="143.2" cy="313.7" r="1.1"/>
<circle cx="147.9" cy="315.7" r="1.1"/>
<circle cx="148.6" cy="317.8" r="1.1"/>
<circle cx="145.6" cy="319.5" r="1.1"/>
<circle cx="151.8" cy="312.8" r="1.1"/>
<circle cx="160.8" cy="309.5" r="1.1"/>
<circle cx="162.3" cy="310.8" r="1.1"/>
<circle cx="163.8" cy="308.5" r="1.1"/>
<circle cx="166.5" cy="307.4" r="1.1"/>
<circle cx="166.2" cy="301.8" r="1.1"/>
<circle cx="157.7" cy="303.0" r="1.1"/>
<circle cx="167.7" cy="299.2" r="1.1"/>
<circle cx="170.6" cy="297.2" r="1.1"/>
<circle cx="176.0" cy="295.4" r="1.1"/>
<circle cx="162.1" cy="309.3" r="1.1"/>
<circle cx="159.7" cy="316.0" r="1.1"/>
<circle cx="171.2" cy="296.2" r="1.1"/>
<circle cx="135.0" cy="323.3" r="1.1"/>
<circle cx="125.5" cy="329.0" r="1.1"/>
<circle cx="154.5" cy="311.0" r="1.1"/>
</g>
<g fill="#a33a52">
<circle cx="187.9" cy="287.8" r="1.1"/>
<circle cx="156.3" cy="303.4" r="1.1"/>
</g>
<g fill="#3d2c8e">
<circle cx="142.2" cy="335.6" r="1.45"/>
<circle cx="156.6" cy="314.8" r="1.45"/>
<circle cx="166.2" cy="312.5" r="1.45"/>
<circle cx="177.0" cy="301.4" r="1.45"/>
<circle cx="190.1" cy="292.7" r="1.45"/>
</g>
<g fill="#b4b0b6">
<circle cx="368.1" cy="330.0" r="1.0"/>
<circle cx="371.0" cy="329.5" r="1.0"/>
<circle cx="374.9" cy="325.7" r="1.0"/>
<circle cx="377.3" cy="321.8" r="1.0"/>
<circle cx="378.7" cy="323.7" r="1.0"/>
<circle cx="397.1" cy="307.9" r="1.0"/>
<circle cx="399.1" cy="308.9" r="1.0"/>
<circle cx="401.0" cy="307.4" r="1.0"/>
<circle cx="403.9" cy="306.0" r="1.0"/>
<circle cx="407.8" cy="300.7" r="1.0"/>
<circle cx="412.6" cy="301.1" r="1.0"/>
<circle cx="417.0" cy="299.2" r="1.0"/>
<circle cx="396.2" cy="310.8" r="1.0"/>
<circle cx="393.3" cy="313.3" r="1.0"/>
<circle cx="390.3" cy="314.7" r="1.0"/>
<circle cx="387.4" cy="316.6" r="1.0"/>
<circle cx="385.0" cy="318.1" r="1.0"/>
<circle cx="382.6" cy="319.6" r="1.0"/>
<circle cx="380.2" cy="321.0" r="1.0"/>
<circle cx="377.8" cy="322.5" r="1.0"/>
<circle cx="375.8" cy="324.4" r="1.0"/>
<circle cx="392.3" cy="324.4" r="1.0"/>
<circle cx="381.6" cy="317.3" r="1.0"/>
<circle cx="436.3" cy="281.5" r="1.0"/>
<circle cx="438.7" cy="280.9" r="1.0"/>
<circle cx="441.8" cy="279.1" r="1.0"/>
<circle cx="444.2" cy="277.2" r="1.0"/>
<circle cx="435.1" cy="286.3" r="1.0"/>
<circle cx="430.3" cy="288.7" r="1.0"/>
<circle cx="426.6" cy="291.2" r="1.0"/>
<circle cx="423.6" cy="293.6" r="1.0"/>
<circle cx="419.4" cy="296.6" r="1.0"/>
<circle cx="491.4" cy="247.1" r="1.0"/>
<circle cx="483.8" cy="254.4" r="1.0"/>
<circle cx="475.1" cy="258.0" r="1.0"/>
<circle cx="472.0" cy="261.9" r="1.0"/>
<circle cx="461.2" cy="264.0" r="1.0"/>
<circle cx="456.9" cy="265.8" r="1.0"/>
<circle cx="456.3" cy="267.7" r="1.0"/>
<circle cx="454.5" cy="270.1" r="1.0"/>
<circle cx="460.0" cy="276.7" r="1.0"/>
<circle cx="366.0" cy="331.5" r="1.0"/>
<circle cx="389.0" cy="317.5" r="1.0"/>
<circle cx="405.0" cy="304.5" r="1.0"/>
<circle cx="410.0" cy="302.5" r="1.0"/>
<circle cx="414.0" cy="300.0" r="1.0"/>
<circle cx="420.0" cy="297.5" r="1.0"/>
<circle cx="428.0" cy="292.5" r="1.0"/>
<circle cx="433.0" cy="289.0" r="1.0"/>
<circle cx="447.5" cy="274.5" r="1.0"/>
<circle cx="450.5" cy="272.0" r="1.0"/>
<circle cx="465.0" cy="265.0" r="1.0"/>
<circle cx="469.0" cy="262.5" r="1.0"/>
<circle cx="479.0" cy="256.5" r="1.0"/>
<circle cx="487.0" cy="251.5" r="1.0"/>
<circle cx="449.0" cy="277.0" r="1.0"/>
</g>
<g fill="#25947c">
<circle cx="383.0" cy="283.6" r="1.15"/>
<circle cx="392.7" cy="281.2" r="1.15"/>
<circle cx="386.4" cy="288.5" r="1.15"/>
<circle cx="401.2" cy="285.4" r="1.15"/>
<circle cx="398.5" cy="290.7" r="1.15"/>
<circle cx="389.1" cy="301.8" r="1.15"/>
<circle cx="389.1" cy="305.5" r="1.15"/>
<circle cx="395.1" cy="305.9" r="1.15"/>
<circle cx="377.0" cy="311.5" r="1.15"/>
<circle cx="381.9" cy="311.6" r="1.15"/>
<circle cx="384.6" cy="314.3" r="1.15"/>
<circle cx="370.6" cy="319.7" r="1.15"/>
<circle cx="404.3" cy="294.8" r="1.15"/>
<circle cx="406.1" cy="292.0" r="1.15"/>
<circle cx="405.0" cy="298.0" r="1.15"/>
<circle cx="408.4" cy="291.5" r="1.15"/>
<circle cx="442.4" cy="267.0" r="1.15"/>
<circle cx="444.6" cy="269.4" r="1.15"/>
<circle cx="441.2" cy="271.2" r="1.15"/>
<circle cx="440.9" cy="273.6" r="1.15"/>
<circle cx="443.0" cy="275.7" r="1.15"/>
<circle cx="440.0" cy="275.7" r="1.15"/>
<circle cx="434.5" cy="276.0" r="1.15"/>
<circle cx="432.1" cy="280.3" r="1.15"/>
<circle cx="431.7" cy="282.7" r="1.15"/>
<circle cx="421.5" cy="285.1" r="1.15"/>
<circle cx="417.0" cy="286.9" r="1.15"/>
<circle cx="421.2" cy="289.0" r="1.15"/>
<circle cx="416.3" cy="290.0" r="1.15"/>
<circle cx="411.5" cy="286.3" r="1.15"/>
<circle cx="412.7" cy="292.4" r="1.15"/>
<circle cx="409.7" cy="293.0" r="1.15"/>
<circle cx="406.7" cy="291.8" r="1.15"/>
<circle cx="401.5" cy="285.7" r="1.15"/>
<circle cx="421.8" cy="292.4" r="1.15"/>
<circle cx="425.4" cy="290.0" r="1.15"/>
<circle cx="427.2" cy="286.3" r="1.15"/>
<circle cx="376.8" cy="311.4" r="1.15"/>
<circle cx="398.6" cy="290.5" r="1.15"/>
<circle cx="409.7" cy="296.8" r="1.15"/>
<circle cx="412.6" cy="292.9" r="1.15"/>
<circle cx="415.0" cy="291.0" r="1.15"/>
<circle cx="394.2" cy="270.5" r="1.15"/>
<circle cx="393.3" cy="273.9" r="1.15"/>
<circle cx="392.8" cy="281.2" r="1.15"/>
<circle cx="409.2" cy="286.5" r="1.15"/>
<circle cx="416.5" cy="287.5" r="1.15"/>
<circle cx="414.6" cy="291.3" r="1.15"/>
<circle cx="416.5" cy="292.3" r="1.15"/>
<circle cx="438.5" cy="264.5" r="1.15"/>
<circle cx="447.0" cy="263.0" r="1.15"/>
<circle cx="431.0" cy="277.5" r="1.15"/>
<circle cx="424.0" cy="283.0" r="1.15"/>
</g>
<g fill="#2e3fb0">
<circle cx="400.8" cy="302.4" r="1.5"/>
<circle cx="418.6" cy="281.2" r="1.5"/>
<circle cx="429.7" cy="272.8" r="1.5"/>
<circle cx="435.4" cy="261.9" r="1.5"/>
<circle cx="459.1" cy="262.2" r="1.5"/>
</g>
<g stroke="#111" stroke-width="1.5" fill="none">
<line x1="186.3" y1="8.0" x2="186.3" y2="133.35"/>
<line x1="185.55" y1="132.6" x2="370.7" y2="132.6"/>
<line x1="183.70000000000002" y1="132.60" x2="186.3" y2="132.60" stroke-width="1.3"/>
<line x1="186.30" y1="132.6" x2="186.30" y2="135.2" stroke-width="1.3"/>
<line x1="183.70000000000002" y1="97.25" x2="186.3" y2="97.25" stroke-width="1.3"/>
<line x1="238.80" y1="132.6" x2="238.80" y2="135.2" stroke-width="1.3"/>
<line x1="183.70000000000002" y1="61.90" x2="186.3" y2="61.90" stroke-width="1.3"/>
<line x1="291.30" y1="132.6" x2="291.30" y2="135.2" stroke-width="1.3"/>
<line x1="183.70000000000002" y1="26.55" x2="186.3" y2="26.55" stroke-width="1.3"/>
<line x1="343.80" y1="132.6" x2="343.80" y2="135.2" stroke-width="1.3"/>
</g>
<g font-family="Liberation Sans, sans-serif" font-weight="bold" font-size="10" fill="#111" stroke="#111" stroke-width="0.3">
<text transform="translate(181.00,136.90) scale(1,0.88)" text-anchor="end">1.5</text>
<text transform="translate(186.90,146.40) scale(1,0.88)" text-anchor="middle">1.5</text>
<text transform="translate(181.00,101.55) scale(1,0.88)" text-anchor="end">2.5</text>
<text transform="translate(239.40,146.40) scale(1,0.88)" text-anchor="middle">2.5</text>
<text transform="translate(181.00,66.20) scale(1,0.88)" text-anchor="end">3.5</text>
<text transform="translate(291.90,146.40) scale(1,0.88)" text-anchor="middle">3.5</text>
<text transform="translate(181.00,30.85) scale(1,0.88)" text-anchor="end">4.5</text>
<text transform="translate(344.40,146.40) scale(1,0.88)" text-anchor="middle">4.5</text>
</g>
<line x1="186.30" y1="132.60" x2="350.62" y2="21.95" stroke="#000" stroke-width="2.9" stroke-linecap="butt"/>
<g stroke="#111" stroke-width="1.5" fill="none">
<line x1="57.4" y1="235.1" x2="57.4" y2="360.15"/>
<line x1="56.65" y1="359.4" x2="242.0" y2="359.4"/>
<line x1="54.8" y1="359.40" x2="57.4" y2="359.40" stroke-width="1.3"/>
<line x1="57.40" y1="359.4" x2="57.40" y2="362.0" stroke-width="1.3"/>
<line x1="54.8" y1="324.20" x2="57.4" y2="324.20" stroke-width="1.3"/>
<line x1="109.85" y1="359.4" x2="109.85" y2="362.0" stroke-width="1.3"/>
<line x1="54.8" y1="289.00" x2="57.4" y2="289.00" stroke-width="1.3"/>
<line x1="162.30" y1="359.4" x2="162.30" y2="362.0" stroke-width="1.3"/>
<line x1="54.8" y1="253.80" x2="57.4" y2="253.80" stroke-width="1.3"/>
<line x1="214.75" y1="359.4" x2="214.75" y2="362.0" stroke-width="1.3"/>
</g>
<g font-family="Liberation Sans, sans-serif" font-weight="bold" font-size="10" fill="#111" stroke="#111" stroke-width="0.3">
<text transform="translate(52.10,363.70) scale(1,0.88)" text-anchor="end">1.5</text>
<text transform="translate(58.00,374.70) scale(1,0.88)" text-anchor="middle">1.5</text>
<text transform="translate(52.10,328.50) scale(1,0.88)" text-anchor="end">2.5</text>
<text transform="translate(110.45,374.70) scale(1,0.88)" text-anchor="middle">2.5</text>
<text transform="translate(52.10,293.30) scale(1,0.88)" text-anchor="end">3.5</text>
<text transform="translate(162.90,374.70) scale(1,0.88)" text-anchor="middle">3.5</text>
<text transform="translate(52.10,258.10) scale(1,0.88)" text-anchor="end">4.5</text>
<text transform="translate(215.35,374.70) scale(1,0.88)" text-anchor="middle">4.5</text>
</g>
<line x1="57.40" y1="359.40" x2="221.57" y2="249.22" stroke="#000" stroke-width="2.6" stroke-linecap="butt"/>
<g stroke="#111" stroke-width="1.5" fill="none">
<line x1="333.0" y1="235.7" x2="333.0" y2="360.25"/>
<line x1="332.25" y1="359.5" x2="517.8" y2="359.5"/>
<line x1="330.4" y1="359.50" x2="333.0" y2="359.50" stroke-width="1.3"/>
<line x1="333.00" y1="359.5" x2="333.00" y2="362.1" stroke-width="1.3"/>
<line x1="330.4" y1="324.30" x2="333.0" y2="324.30" stroke-width="1.3"/>
<line x1="385.60" y1="359.5" x2="385.60" y2="362.1" stroke-width="1.3"/>
<line x1="330.4" y1="289.10" x2="333.0" y2="289.10" stroke-width="1.3"/>
<line x1="438.20" y1="359.5" x2="438.20" y2="362.1" stroke-width="1.3"/>
<line x1="330.4" y1="253.90" x2="333.0" y2="253.90" stroke-width="1.3"/>
<line x1="490.80" y1="359.5" x2="490.80" y2="362.1" stroke-width="1.3"/>
</g>
<g font-family="Liberation Sans, sans-serif" font-weight="bold" font-size="10" fill="#111" stroke="#111" stroke-width="0.3">
<text transform="translate(328.20,363.80) scale(1,0.88)" text-anchor="end">1.5</text>
<text transform="translate(333.60,374.80) scale(1,0.88)" text-anchor="middle">1.5</text>
<text transform="translate(328.20,328.60) scale(1,0.88)" text-anchor="end">2.5</text>
<text transform="translate(386.20,374.80) scale(1,0.88)" text-anchor="middle">2.5</text>
<text transform="translate(328.20,293.40) scale(1,0.88)" text-anchor="end">3.5</text>
<text transform="translate(438.80,374.80) scale(1,0.88)" text-anchor="middle">3.5</text>
<text transform="translate(328.20,258.20) scale(1,0.88)" text-anchor="end">4.5</text>
<text transform="translate(491.40,374.80) scale(1,0.88)" text-anchor="middle">4.5</text>
</g>
<line x1="333.00" y1="359.50" x2="497.64" y2="249.32" stroke="#000" stroke-width="2.6" stroke-linecap="butt"/>
<g font-family="Liberation Sans, sans-serif" font-weight="bold" font-size="7.4" fill="#161616" stroke="#161616" stroke-width="0.25">
<text transform="translate(302.1,26.4) scale(1,0.88)">Atp1b1</text>
<text transform="translate(340.4,37.4) scale(1,0.88)">Tcf4</text>
<text transform="translate(284.5,45.1) scale(1,0.88)">Il7</text>
<text transform="translate(257.8,52.3) scale(1,0.88)">Siglech</text>
<text transform="translate(253.8,66.2) scale(1,0.88)">Bcl2</text>
<text transform="translate(234.8,82.9) scale(1,0.88)">Blnk</text>
<text transform="translate(264.2,88.5) scale(1,0.88)">Spib</text>
<text transform="translate(245.8,104.6) scale(1,0.88)">Runx2</text>
<text transform="translate(194.4,295.2) scale(1,0.88)">Prc1</text>
<text transform="translate(180.6,303.6) scale(1,0.88)">Kif23</text>
<text transform="translate(169.5,314.6) scale(1,0.88)">Rad54b</text>
<text transform="translate(157.4,324.0) scale(1,0.88)">Cdca2</text>
<text transform="translate(145.4,341.8) scale(1,0.88)">Upk1b</text>
<text transform="translate(416.6,257.6) scale(1,0.88)">Ly6a</text>
<text transform="translate(441.4,257.0) scale(1,0.88)">Pacsin1</text>
<text transform="translate(405.2,272.3) scale(1,0.88)">Klra17</text>
<text transform="translate(402.6,282.7) scale(1,0.88)">Tlr7</text>
<text transform="translate(384.4,299.1) scale(1,0.88)">Sla2</text>
</g>
<g font-family="Liberation Sans, sans-serif" font-weight="bold" font-size="14" fill="#000" stroke="#000" stroke-width="0.3">
<text x="129.2" y="13.1">A</text>
<text x="9.0" y="219.5">B</text>
<text x="282.8" y="220.8">C</text>
</g>
<g font-family="Liberation Sans, sans-serif" font-weight="bold" font-size="10" fill="#111" stroke="#111" stroke-width="0.3">
<text transform="translate(153.4,218.7) scale(1,0.88)" text-anchor="middle">CDP specific</text>
<text transform="translate(428.8,218.5) scale(1,0.88)" text-anchor="middle">pDC specific</text>
</g>
<g font-family="Liberation Sans, sans-serif" font-weight="bold" font-size="10" fill="#111" stroke="#111" stroke-width="0.3" text-anchor="middle">
<text transform="translate(273.2,167.5) scale(1,0.88)">CCR9<tspan font-size="6.5" dy="-3.5">-</tspan><tspan dy="3.5"> pDC-like precursor</tspan></text>
<text transform="translate(273.2,180.0) scale(1,0.88)">log<tspan font-size="5.9" dy="2.6">10</tspan><tspan dy="-2.6"> intensity</tspan></text>
</g>
<g font-family="Liberation Sans, sans-serif" font-weight="bold" font-size="10" fill="#111" stroke="#111" stroke-width="0.3" text-anchor="middle">
<text transform="translate(151.1,395.3) scale(1,0.88)">CCR9<tspan font-size="6.5" dy="-3.5">-</tspan><tspan dy="3.5"> pDC-like precursor</tspan></text>
<text transform="translate(151.1,407.3) scale(1,0.88)">log<tspan font-size="5.9" dy="2.6">10</tspan><tspan dy="-2.6"> intensity</tspan></text>
</g>
<g font-family="Liberation Sans, sans-serif" font-weight="bold" font-size="10" fill="#111" stroke="#111" stroke-width="0.3" text-anchor="middle">
<text transform="translate(429.2,395.0) scale(1,0.88)">CCR9<tspan font-size="6.5" dy="-3.5">-</tspan><tspan dy="3.5"> pDC-like precursor</tspan></text>
<text transform="translate(429.2,407.2) scale(1,0.88)">log<tspan font-size="5.9" dy="2.6">10</tspan><tspan dy="-2.6"> intensity</tspan></text>
</g>
<g font-family="Liberation Sans, sans-serif" font-weight="bold" font-size="10" fill="#111" stroke="#111" stroke-width="0.3" text-anchor="middle">
<text transform="translate(133.3,66.6) rotate(-90) scale(1,0.88)">CCR9<tspan font-size="5.5" dy="-4.2">+</tspan><tspan dy="4.2"> pDC</tspan></text>
<text transform="translate(146.4,66.6) rotate(-90) scale(1,0.88)">log<tspan font-size="5.9" dy="2.6">10</tspan><tspan dy="-2.6"> intensity</tspan></text>
</g>
<g font-family="Liberation Sans, sans-serif" font-weight="bold" font-size="10" fill="#111" stroke="#111" stroke-width="0.3" text-anchor="middle">
<text transform="translate(10.7,295.2) rotate(-90) scale(1,0.88)">CCR9<tspan font-size="5.5" dy="-4.2">+</tspan><tspan dy="4.2"> pDC</tspan></text>
<text transform="translate(23.0,295.2) rotate(-90) scale(1,0.88)">log<tspan font-size="5.9" dy="2.6">10</tspan><tspan dy="-2.6"> intensity</tspan></text>
</g>
<g font-family="Liberation Sans, sans-serif" font-weight="bold" font-size="10" fill="#111" stroke="#111" stroke-width="0.3" text-anchor="middle">
<text transform="translate(289.2,295.5) rotate(-90) scale(1,0.88)">CCR9<tspan font-size="5.5" dy="-4.2">+</tspan><tspan dy="4.2"> pDC</tspan></text>
<text transform="translate(302.0,295.5) rotate(-90) scale(1,0.88)">log<tspan font-size="5.9" dy="2.6">10</tspan><tspan dy="-2.6"> intensity</tspan></text>
</g>
<g font-family="Liberation Sans, sans-serif" font-weight="bold" font-size="10" stroke-width="0.3">
<text transform="translate(191.4,15.9) scale(1,0.88)" fill="#35946e" stroke="#35946e">3.4%</text>
<text transform="translate(369.3,127.2) scale(1,0.88)" fill="#e0283a" stroke="#e0283a" text-anchor="end">2.3%</text>
<text transform="translate(62.4,243.3) scale(1,0.88)" fill="#35946e" stroke="#35946e">2.4%</text>
<text transform="translate(244.3,353.6) scale(1,0.88)" fill="#e0283a" stroke="#e0283a" text-anchor="end">28.2%</text>
<text transform="translate(338.2,243.6) scale(1,0.88)" fill="#35946e" stroke="#35946e">27.2%</text>
<text transform="translate(515.5,353.8) scale(1,0.88)" fill="#e0283a" stroke="#e0283a" text-anchor="end">0%</text>
</g>
</svg>
</body></html>
